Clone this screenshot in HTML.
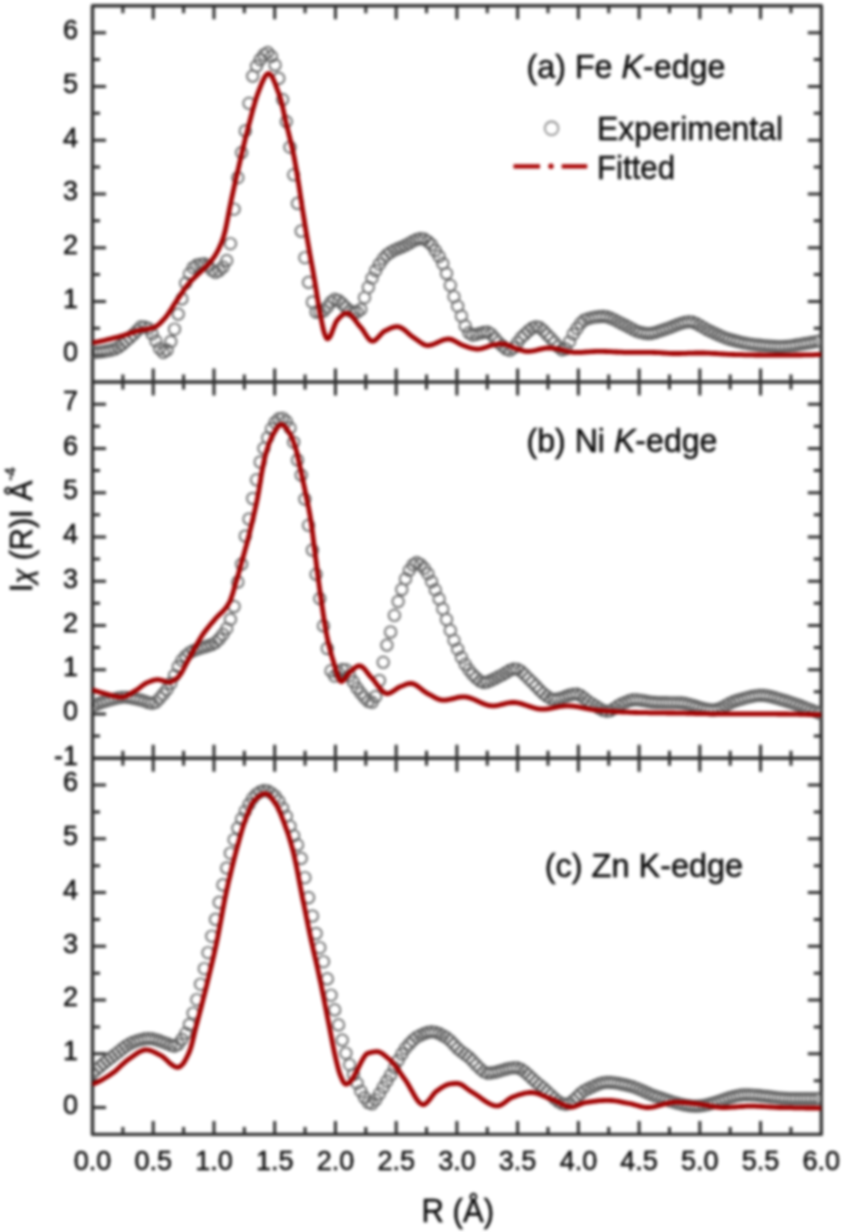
<!DOCTYPE html>
<html><head><meta charset="utf-8"><style>
html,body{margin:0;padding:0;background:#fff;}
svg{display:block;}
#w{filter:blur(1.5px);width:843px;height:1232px;overflow:hidden;}
</style></head><body>
<div id="w"><svg width="843" height="1232" viewBox="0 0 843 1232">
<rect width="100%" height="100%" fill="#fff"/>
<g stroke="#303030" stroke-width="3.4" fill="none" stroke-linecap="butt">
<rect x="92.5" y="5.8" width="728.8" height="1128.6" stroke-linejoin="round"/>
<line x1="92.5" y1="382.0" x2="821.3" y2="382.0"/>
<line x1="92.5" y1="758.1999999999999" x2="821.3" y2="758.1999999999999"/>
</g>
<path d="M92.5,355.13h13.5M821.3,355.13h-13.5M92.5,328.26h7.5M821.3,328.26h-7.5M92.5,301.39h13.5M821.3,301.39h-13.5M92.5,274.51h7.5M821.3,274.51h-7.5M92.5,247.64h13.5M821.3,247.64h-13.5M92.5,220.77h7.5M821.3,220.77h-7.5M92.5,193.90h13.5M821.3,193.90h-13.5M92.5,167.03h7.5M821.3,167.03h-7.5M92.5,140.16h13.5M821.3,140.16h-13.5M92.5,113.29h7.5M821.3,113.29h-7.5M92.5,86.41h13.5M821.3,86.41h-13.5M92.5,59.54h7.5M821.3,59.54h-7.5M92.5,32.67h13.5M821.3,32.67h-13.5M92.5,736.07h7.5M821.3,736.07h-7.5M92.5,713.94h13.5M821.3,713.94h-13.5M92.5,691.81h7.5M821.3,691.81h-7.5M92.5,669.68h13.5M821.3,669.68h-13.5M92.5,647.55h7.5M821.3,647.55h-7.5M92.5,625.42h13.5M821.3,625.42h-13.5M92.5,603.29h7.5M821.3,603.29h-7.5M92.5,581.16h13.5M821.3,581.16h-13.5M92.5,559.04h7.5M821.3,559.04h-7.5M92.5,536.91h13.5M821.3,536.91h-13.5M92.5,514.78h7.5M821.3,514.78h-7.5M92.5,492.65h13.5M821.3,492.65h-13.5M92.5,470.52h7.5M821.3,470.52h-7.5M92.5,448.39h13.5M821.3,448.39h-13.5M92.5,426.26h7.5M821.3,426.26h-7.5M92.5,404.13h13.5M821.3,404.13h-13.5M92.5,1107.53h13.5M821.3,1107.53h-13.5M92.5,1080.66h7.5M821.3,1080.66h-7.5M92.5,1053.79h13.5M821.3,1053.79h-13.5M92.5,1026.91h7.5M821.3,1026.91h-7.5M92.5,1000.04h13.5M821.3,1000.04h-13.5M92.5,973.17h7.5M821.3,973.17h-7.5M92.5,946.30h13.5M821.3,946.30h-13.5M92.5,919.43h7.5M821.3,919.43h-7.5M92.5,892.56h13.5M821.3,892.56h-13.5M92.5,865.69h7.5M821.3,865.69h-7.5M92.5,838.81h13.5M821.3,838.81h-13.5M92.5,811.94h7.5M821.3,811.94h-7.5M92.5,785.07h13.5M821.3,785.07h-13.5M122.87,5.8v7.5M153.23,5.8v13.5M183.60,5.8v7.5M213.97,5.8v13.5M244.33,5.8v7.5M274.70,5.8v13.5M305.07,5.8v7.5M335.43,5.8v13.5M365.80,5.8v7.5M396.17,5.8v13.5M426.53,5.8v7.5M456.90,5.8v13.5M487.27,5.8v7.5M517.63,5.8v13.5M548.00,5.8v7.5M578.37,5.8v13.5M608.73,5.8v7.5M639.10,5.8v13.5M669.47,5.8v7.5M699.83,5.8v13.5M730.20,5.8v7.5M760.57,5.8v13.5M790.93,5.8v7.5M122.87,374.5v15.0M153.23,368.5v27.0M183.60,374.5v15.0M213.97,368.5v27.0M244.33,374.5v15.0M274.70,368.5v27.0M305.07,374.5v15.0M335.43,368.5v27.0M365.80,374.5v15.0M396.17,368.5v27.0M426.53,374.5v15.0M456.90,368.5v27.0M487.27,374.5v15.0M517.63,368.5v27.0M548.00,374.5v15.0M578.37,368.5v27.0M608.73,374.5v15.0M639.10,368.5v27.0M669.47,374.5v15.0M699.83,368.5v27.0M730.20,374.5v15.0M760.57,368.5v27.0M790.93,374.5v15.0M122.87,750.6999999999999v15.0M153.23,744.6999999999999v27.0M183.60,750.6999999999999v15.0M213.97,744.6999999999999v27.0M244.33,750.6999999999999v15.0M274.70,744.6999999999999v27.0M305.07,750.6999999999999v15.0M335.43,744.6999999999999v27.0M365.80,750.6999999999999v15.0M396.17,744.6999999999999v27.0M426.53,750.6999999999999v15.0M456.90,744.6999999999999v27.0M487.27,750.6999999999999v15.0M517.63,744.6999999999999v27.0M548.00,750.6999999999999v15.0M578.37,744.6999999999999v27.0M608.73,750.6999999999999v15.0M639.10,744.6999999999999v27.0M669.47,750.6999999999999v15.0M699.83,744.6999999999999v27.0M730.20,750.6999999999999v15.0M760.57,744.6999999999999v27.0M790.93,750.6999999999999v15.0M122.87,1134.3999999999999v-7.5M153.23,1134.3999999999999v-13.5M183.60,1134.3999999999999v-7.5M213.97,1134.3999999999999v-13.5M244.33,1134.3999999999999v-7.5M274.70,1134.3999999999999v-13.5M305.07,1134.3999999999999v-7.5M335.43,1134.3999999999999v-13.5M365.80,1134.3999999999999v-7.5M396.17,1134.3999999999999v-13.5M426.53,1134.3999999999999v-7.5M456.90,1134.3999999999999v-13.5M487.27,1134.3999999999999v-7.5M517.63,1134.3999999999999v-13.5M548.00,1134.3999999999999v-7.5M578.37,1134.3999999999999v-13.5M608.73,1134.3999999999999v-7.5M639.10,1134.3999999999999v-13.5M669.47,1134.3999999999999v-7.5M699.83,1134.3999999999999v-13.5M730.20,1134.3999999999999v-7.5M760.57,1134.3999999999999v-13.5M790.93,1134.3999999999999v-7.5" stroke="#303030" stroke-width="3.0" fill="none"/>
<defs>
<clipPath id="cp0"><rect x="92.5" y="5.80" width="728.80" height="376.20"/></clipPath>
<clipPath id="cp1"><rect x="92.5" y="382.00" width="728.80" height="376.20"/></clipPath>
<clipPath id="cp2"><rect x="92.5" y="758.20" width="728.80" height="376.20"/></clipPath>
</defs>
<g clip-path="url(#cp0)">
<path d="M86.8,352.4a5.7,5.7 0 1,0 11.4,0a5.7,5.7 0 1,0 -11.4,0M90.5,352.3a5.7,5.7 0 1,0 11.4,0a5.7,5.7 0 1,0 -11.4,0M94.3,352.0a5.7,5.7 0 1,0 11.4,0a5.7,5.7 0 1,0 -11.4,0M98.0,351.5a5.7,5.7 0 1,0 11.4,0a5.7,5.7 0 1,0 -11.4,0M101.7,350.8a5.7,5.7 0 1,0 11.4,0a5.7,5.7 0 1,0 -11.4,0M105.4,350.1a5.7,5.7 0 1,0 11.4,0a5.7,5.7 0 1,0 -11.4,0M109.2,349.0a5.7,5.7 0 1,0 11.4,0a5.7,5.7 0 1,0 -11.4,0M112.9,347.1a5.7,5.7 0 1,0 11.4,0a5.7,5.7 0 1,0 -11.4,0M116.6,344.4a5.7,5.7 0 1,0 11.4,0a5.7,5.7 0 1,0 -11.4,0M120.3,341.2a5.7,5.7 0 1,0 11.4,0a5.7,5.7 0 1,0 -11.4,0M124.1,337.8a5.7,5.7 0 1,0 11.4,0a5.7,5.7 0 1,0 -11.4,0M127.8,334.4a5.7,5.7 0 1,0 11.4,0a5.7,5.7 0 1,0 -11.4,0M131.5,330.6a5.7,5.7 0 1,0 11.4,0a5.7,5.7 0 1,0 -11.4,0M135.2,326.9a5.7,5.7 0 1,0 11.4,0a5.7,5.7 0 1,0 -11.4,0M139.0,327.0a5.7,5.7 0 1,0 11.4,0a5.7,5.7 0 1,0 -11.4,0M142.7,328.3a5.7,5.7 0 1,0 11.4,0a5.7,5.7 0 1,0 -11.4,0M146.4,333.9a5.7,5.7 0 1,0 11.4,0a5.7,5.7 0 1,0 -11.4,0M150.2,341.0a5.7,5.7 0 1,0 11.4,0a5.7,5.7 0 1,0 -11.4,0M153.9,348.6a5.7,5.7 0 1,0 11.4,0a5.7,5.7 0 1,0 -11.4,0M157.6,352.4a5.7,5.7 0 1,0 11.4,0a5.7,5.7 0 1,0 -11.4,0M161.3,350.1a5.7,5.7 0 1,0 11.4,0a5.7,5.7 0 1,0 -11.4,0M165.1,341.5a5.7,5.7 0 1,0 11.4,0a5.7,5.7 0 1,0 -11.4,0M168.8,329.2a5.7,5.7 0 1,0 11.4,0a5.7,5.7 0 1,0 -11.4,0M172.5,314.1a5.7,5.7 0 1,0 11.4,0a5.7,5.7 0 1,0 -11.4,0M176.2,298.9a5.7,5.7 0 1,0 11.4,0a5.7,5.7 0 1,0 -11.4,0M180.0,283.1a5.7,5.7 0 1,0 11.4,0a5.7,5.7 0 1,0 -11.4,0M183.7,273.8a5.7,5.7 0 1,0 11.4,0a5.7,5.7 0 1,0 -11.4,0M187.4,267.7a5.7,5.7 0 1,0 11.4,0a5.7,5.7 0 1,0 -11.4,0M191.1,265.1a5.7,5.7 0 1,0 11.4,0a5.7,5.7 0 1,0 -11.4,0M194.9,264.2a5.7,5.7 0 1,0 11.4,0a5.7,5.7 0 1,0 -11.4,0M198.6,263.8a5.7,5.7 0 1,0 11.4,0a5.7,5.7 0 1,0 -11.4,0M202.3,265.6a5.7,5.7 0 1,0 11.4,0a5.7,5.7 0 1,0 -11.4,0M206.1,270.2a5.7,5.7 0 1,0 11.4,0a5.7,5.7 0 1,0 -11.4,0M209.8,272.3a5.7,5.7 0 1,0 11.4,0a5.7,5.7 0 1,0 -11.4,0M213.5,270.7a5.7,5.7 0 1,0 11.4,0a5.7,5.7 0 1,0 -11.4,0M217.2,267.0a5.7,5.7 0 1,0 11.4,0a5.7,5.7 0 1,0 -11.4,0M221.0,260.6a5.7,5.7 0 1,0 11.4,0a5.7,5.7 0 1,0 -11.4,0M224.7,243.7a5.7,5.7 0 1,0 11.4,0a5.7,5.7 0 1,0 -11.4,0M228.4,209.2a5.7,5.7 0 1,0 11.4,0a5.7,5.7 0 1,0 -11.4,0M232.1,177.7a5.7,5.7 0 1,0 11.4,0a5.7,5.7 0 1,0 -11.4,0M235.9,152.6a5.7,5.7 0 1,0 11.4,0a5.7,5.7 0 1,0 -11.4,0M239.6,130.9a5.7,5.7 0 1,0 11.4,0a5.7,5.7 0 1,0 -11.4,0M243.3,103.3a5.7,5.7 0 1,0 11.4,0a5.7,5.7 0 1,0 -11.4,0M247.0,76.1a5.7,5.7 0 1,0 11.4,0a5.7,5.7 0 1,0 -11.4,0M250.8,66.1a5.7,5.7 0 1,0 11.4,0a5.7,5.7 0 1,0 -11.4,0M254.5,59.6a5.7,5.7 0 1,0 11.4,0a5.7,5.7 0 1,0 -11.4,0M258.2,54.9a5.7,5.7 0 1,0 11.4,0a5.7,5.7 0 1,0 -11.4,0M262.0,52.6a5.7,5.7 0 1,0 11.4,0a5.7,5.7 0 1,0 -11.4,0M265.7,56.3a5.7,5.7 0 1,0 11.4,0a5.7,5.7 0 1,0 -11.4,0M269.4,65.0a5.7,5.7 0 1,0 11.4,0a5.7,5.7 0 1,0 -11.4,0M273.1,78.4a5.7,5.7 0 1,0 11.4,0a5.7,5.7 0 1,0 -11.4,0M276.9,99.6a5.7,5.7 0 1,0 11.4,0a5.7,5.7 0 1,0 -11.4,0M280.6,121.6a5.7,5.7 0 1,0 11.4,0a5.7,5.7 0 1,0 -11.4,0M284.3,147.2a5.7,5.7 0 1,0 11.4,0a5.7,5.7 0 1,0 -11.4,0M288.0,174.8a5.7,5.7 0 1,0 11.4,0a5.7,5.7 0 1,0 -11.4,0M291.8,203.4a5.7,5.7 0 1,0 11.4,0a5.7,5.7 0 1,0 -11.4,0M295.5,231.1a5.7,5.7 0 1,0 11.4,0a5.7,5.7 0 1,0 -11.4,0M299.2,257.7a5.7,5.7 0 1,0 11.4,0a5.7,5.7 0 1,0 -11.4,0M302.9,282.4a5.7,5.7 0 1,0 11.4,0a5.7,5.7 0 1,0 -11.4,0M306.7,302.0a5.7,5.7 0 1,0 11.4,0a5.7,5.7 0 1,0 -11.4,0M310.4,312.1a5.7,5.7 0 1,0 11.4,0a5.7,5.7 0 1,0 -11.4,0M314.1,311.8a5.7,5.7 0 1,0 11.4,0a5.7,5.7 0 1,0 -11.4,0M317.8,311.0a5.7,5.7 0 1,0 11.4,0a5.7,5.7 0 1,0 -11.4,0M321.6,307.1a5.7,5.7 0 1,0 11.4,0a5.7,5.7 0 1,0 -11.4,0M325.3,302.1a5.7,5.7 0 1,0 11.4,0a5.7,5.7 0 1,0 -11.4,0M329.0,299.4a5.7,5.7 0 1,0 11.4,0a5.7,5.7 0 1,0 -11.4,0M332.8,300.5a5.7,5.7 0 1,0 11.4,0a5.7,5.7 0 1,0 -11.4,0M336.5,303.6a5.7,5.7 0 1,0 11.4,0a5.7,5.7 0 1,0 -11.4,0M340.2,307.5a5.7,5.7 0 1,0 11.4,0a5.7,5.7 0 1,0 -11.4,0M343.9,310.9a5.7,5.7 0 1,0 11.4,0a5.7,5.7 0 1,0 -11.4,0M347.7,311.7a5.7,5.7 0 1,0 11.4,0a5.7,5.7 0 1,0 -11.4,0M351.4,312.1a5.7,5.7 0 1,0 11.4,0a5.7,5.7 0 1,0 -11.4,0M355.1,309.3a5.7,5.7 0 1,0 11.4,0a5.7,5.7 0 1,0 -11.4,0M358.8,297.7a5.7,5.7 0 1,0 11.4,0a5.7,5.7 0 1,0 -11.4,0M362.6,287.3a5.7,5.7 0 1,0 11.4,0a5.7,5.7 0 1,0 -11.4,0M366.3,278.2a5.7,5.7 0 1,0 11.4,0a5.7,5.7 0 1,0 -11.4,0M370.0,270.5a5.7,5.7 0 1,0 11.4,0a5.7,5.7 0 1,0 -11.4,0M373.7,264.2a5.7,5.7 0 1,0 11.4,0a5.7,5.7 0 1,0 -11.4,0M377.5,258.8a5.7,5.7 0 1,0 11.4,0a5.7,5.7 0 1,0 -11.4,0M381.2,254.8a5.7,5.7 0 1,0 11.4,0a5.7,5.7 0 1,0 -11.4,0M384.9,252.3a5.7,5.7 0 1,0 11.4,0a5.7,5.7 0 1,0 -11.4,0M388.7,250.2a5.7,5.7 0 1,0 11.4,0a5.7,5.7 0 1,0 -11.4,0M392.4,248.5a5.7,5.7 0 1,0 11.4,0a5.7,5.7 0 1,0 -11.4,0M396.1,247.0a5.7,5.7 0 1,0 11.4,0a5.7,5.7 0 1,0 -11.4,0M399.8,245.3a5.7,5.7 0 1,0 11.4,0a5.7,5.7 0 1,0 -11.4,0M403.6,243.3a5.7,5.7 0 1,0 11.4,0a5.7,5.7 0 1,0 -11.4,0M407.3,241.2a5.7,5.7 0 1,0 11.4,0a5.7,5.7 0 1,0 -11.4,0M411.0,239.5a5.7,5.7 0 1,0 11.4,0a5.7,5.7 0 1,0 -11.4,0M414.7,238.6a5.7,5.7 0 1,0 11.4,0a5.7,5.7 0 1,0 -11.4,0M418.5,239.1a5.7,5.7 0 1,0 11.4,0a5.7,5.7 0 1,0 -11.4,0M422.2,241.5a5.7,5.7 0 1,0 11.4,0a5.7,5.7 0 1,0 -11.4,0M425.9,244.9a5.7,5.7 0 1,0 11.4,0a5.7,5.7 0 1,0 -11.4,0M429.6,250.5a5.7,5.7 0 1,0 11.4,0a5.7,5.7 0 1,0 -11.4,0M433.4,256.4a5.7,5.7 0 1,0 11.4,0a5.7,5.7 0 1,0 -11.4,0M437.1,263.5a5.7,5.7 0 1,0 11.4,0a5.7,5.7 0 1,0 -11.4,0M440.8,273.5a5.7,5.7 0 1,0 11.4,0a5.7,5.7 0 1,0 -11.4,0M444.6,285.3a5.7,5.7 0 1,0 11.4,0a5.7,5.7 0 1,0 -11.4,0M448.3,296.7a5.7,5.7 0 1,0 11.4,0a5.7,5.7 0 1,0 -11.4,0M452.0,306.2a5.7,5.7 0 1,0 11.4,0a5.7,5.7 0 1,0 -11.4,0M455.7,316.0a5.7,5.7 0 1,0 11.4,0a5.7,5.7 0 1,0 -11.4,0M459.5,325.9a5.7,5.7 0 1,0 11.4,0a5.7,5.7 0 1,0 -11.4,0M463.2,332.8a5.7,5.7 0 1,0 11.4,0a5.7,5.7 0 1,0 -11.4,0M466.9,335.2a5.7,5.7 0 1,0 11.4,0a5.7,5.7 0 1,0 -11.4,0M470.6,334.4a5.7,5.7 0 1,0 11.4,0a5.7,5.7 0 1,0 -11.4,0M474.4,333.3a5.7,5.7 0 1,0 11.4,0a5.7,5.7 0 1,0 -11.4,0M478.1,332.4a5.7,5.7 0 1,0 11.4,0a5.7,5.7 0 1,0 -11.4,0M481.8,332.0a5.7,5.7 0 1,0 11.4,0a5.7,5.7 0 1,0 -11.4,0M485.5,334.2a5.7,5.7 0 1,0 11.4,0a5.7,5.7 0 1,0 -11.4,0M489.3,338.5a5.7,5.7 0 1,0 11.4,0a5.7,5.7 0 1,0 -11.4,0M493.0,342.7a5.7,5.7 0 1,0 11.4,0a5.7,5.7 0 1,0 -11.4,0M496.7,345.9a5.7,5.7 0 1,0 11.4,0a5.7,5.7 0 1,0 -11.4,0M500.5,349.0a5.7,5.7 0 1,0 11.4,0a5.7,5.7 0 1,0 -11.4,0M504.2,350.3a5.7,5.7 0 1,0 11.4,0a5.7,5.7 0 1,0 -11.4,0M507.9,347.9a5.7,5.7 0 1,0 11.4,0a5.7,5.7 0 1,0 -11.4,0M511.6,342.9a5.7,5.7 0 1,0 11.4,0a5.7,5.7 0 1,0 -11.4,0M515.4,337.8a5.7,5.7 0 1,0 11.4,0a5.7,5.7 0 1,0 -11.4,0M519.1,334.3a5.7,5.7 0 1,0 11.4,0a5.7,5.7 0 1,0 -11.4,0M522.8,330.9a5.7,5.7 0 1,0 11.4,0a5.7,5.7 0 1,0 -11.4,0M526.5,328.1a5.7,5.7 0 1,0 11.4,0a5.7,5.7 0 1,0 -11.4,0M530.3,326.7a5.7,5.7 0 1,0 11.4,0a5.7,5.7 0 1,0 -11.4,0M534.0,327.6a5.7,5.7 0 1,0 11.4,0a5.7,5.7 0 1,0 -11.4,0M537.7,330.6a5.7,5.7 0 1,0 11.4,0a5.7,5.7 0 1,0 -11.4,0M541.4,334.6a5.7,5.7 0 1,0 11.4,0a5.7,5.7 0 1,0 -11.4,0M545.2,338.3a5.7,5.7 0 1,0 11.4,0a5.7,5.7 0 1,0 -11.4,0M548.9,342.5a5.7,5.7 0 1,0 11.4,0a5.7,5.7 0 1,0 -11.4,0M552.6,346.9a5.7,5.7 0 1,0 11.4,0a5.7,5.7 0 1,0 -11.4,0M556.4,349.9a5.7,5.7 0 1,0 11.4,0a5.7,5.7 0 1,0 -11.4,0M560.1,348.9a5.7,5.7 0 1,0 11.4,0a5.7,5.7 0 1,0 -11.4,0M563.8,341.7a5.7,5.7 0 1,0 11.4,0a5.7,5.7 0 1,0 -11.4,0M567.5,334.0a5.7,5.7 0 1,0 11.4,0a5.7,5.7 0 1,0 -11.4,0M571.3,328.5a5.7,5.7 0 1,0 11.4,0a5.7,5.7 0 1,0 -11.4,0M575.0,323.3a5.7,5.7 0 1,0 11.4,0a5.7,5.7 0 1,0 -11.4,0M578.7,320.0a5.7,5.7 0 1,0 11.4,0a5.7,5.7 0 1,0 -11.4,0M582.4,318.7a5.7,5.7 0 1,0 11.4,0a5.7,5.7 0 1,0 -11.4,0M586.2,317.7a5.7,5.7 0 1,0 11.4,0a5.7,5.7 0 1,0 -11.4,0M589.9,317.0a5.7,5.7 0 1,0 11.4,0a5.7,5.7 0 1,0 -11.4,0M593.6,316.6a5.7,5.7 0 1,0 11.4,0a5.7,5.7 0 1,0 -11.4,0M597.3,316.4a5.7,5.7 0 1,0 11.4,0a5.7,5.7 0 1,0 -11.4,0M601.1,316.9a5.7,5.7 0 1,0 11.4,0a5.7,5.7 0 1,0 -11.4,0M604.8,318.1a5.7,5.7 0 1,0 11.4,0a5.7,5.7 0 1,0 -11.4,0M608.5,319.7a5.7,5.7 0 1,0 11.4,0a5.7,5.7 0 1,0 -11.4,0M612.3,321.7a5.7,5.7 0 1,0 11.4,0a5.7,5.7 0 1,0 -11.4,0M616.0,323.6a5.7,5.7 0 1,0 11.4,0a5.7,5.7 0 1,0 -11.4,0M619.7,325.4a5.7,5.7 0 1,0 11.4,0a5.7,5.7 0 1,0 -11.4,0M623.4,327.3a5.7,5.7 0 1,0 11.4,0a5.7,5.7 0 1,0 -11.4,0M627.2,329.4a5.7,5.7 0 1,0 11.4,0a5.7,5.7 0 1,0 -11.4,0M630.9,331.2a5.7,5.7 0 1,0 11.4,0a5.7,5.7 0 1,0 -11.4,0M634.6,332.3a5.7,5.7 0 1,0 11.4,0a5.7,5.7 0 1,0 -11.4,0M638.3,333.1a5.7,5.7 0 1,0 11.4,0a5.7,5.7 0 1,0 -11.4,0M642.1,333.6a5.7,5.7 0 1,0 11.4,0a5.7,5.7 0 1,0 -11.4,0M645.8,333.4a5.7,5.7 0 1,0 11.4,0a5.7,5.7 0 1,0 -11.4,0M649.5,332.5a5.7,5.7 0 1,0 11.4,0a5.7,5.7 0 1,0 -11.4,0M653.2,331.3a5.7,5.7 0 1,0 11.4,0a5.7,5.7 0 1,0 -11.4,0M657.0,330.1a5.7,5.7 0 1,0 11.4,0a5.7,5.7 0 1,0 -11.4,0M660.7,328.9a5.7,5.7 0 1,0 11.4,0a5.7,5.7 0 1,0 -11.4,0M664.4,327.5a5.7,5.7 0 1,0 11.4,0a5.7,5.7 0 1,0 -11.4,0M668.1,326.0a5.7,5.7 0 1,0 11.4,0a5.7,5.7 0 1,0 -11.4,0M671.9,324.5a5.7,5.7 0 1,0 11.4,0a5.7,5.7 0 1,0 -11.4,0M675.6,323.3a5.7,5.7 0 1,0 11.4,0a5.7,5.7 0 1,0 -11.4,0M679.3,322.3a5.7,5.7 0 1,0 11.4,0a5.7,5.7 0 1,0 -11.4,0M683.1,321.8a5.7,5.7 0 1,0 11.4,0a5.7,5.7 0 1,0 -11.4,0M686.8,322.1a5.7,5.7 0 1,0 11.4,0a5.7,5.7 0 1,0 -11.4,0M690.5,323.5a5.7,5.7 0 1,0 11.4,0a5.7,5.7 0 1,0 -11.4,0M694.2,325.5a5.7,5.7 0 1,0 11.4,0a5.7,5.7 0 1,0 -11.4,0M698.0,327.7a5.7,5.7 0 1,0 11.4,0a5.7,5.7 0 1,0 -11.4,0M701.7,329.9a5.7,5.7 0 1,0 11.4,0a5.7,5.7 0 1,0 -11.4,0M705.4,331.6a5.7,5.7 0 1,0 11.4,0a5.7,5.7 0 1,0 -11.4,0M709.1,333.4a5.7,5.7 0 1,0 11.4,0a5.7,5.7 0 1,0 -11.4,0M712.9,335.1a5.7,5.7 0 1,0 11.4,0a5.7,5.7 0 1,0 -11.4,0M716.6,336.7a5.7,5.7 0 1,0 11.4,0a5.7,5.7 0 1,0 -11.4,0M720.3,338.2a5.7,5.7 0 1,0 11.4,0a5.7,5.7 0 1,0 -11.4,0M724.0,339.4a5.7,5.7 0 1,0 11.4,0a5.7,5.7 0 1,0 -11.4,0M727.8,340.4a5.7,5.7 0 1,0 11.4,0a5.7,5.7 0 1,0 -11.4,0M731.5,341.4a5.7,5.7 0 1,0 11.4,0a5.7,5.7 0 1,0 -11.4,0M735.2,342.2a5.7,5.7 0 1,0 11.4,0a5.7,5.7 0 1,0 -11.4,0M739.0,343.0a5.7,5.7 0 1,0 11.4,0a5.7,5.7 0 1,0 -11.4,0M742.7,343.7a5.7,5.7 0 1,0 11.4,0a5.7,5.7 0 1,0 -11.4,0M746.4,344.2a5.7,5.7 0 1,0 11.4,0a5.7,5.7 0 1,0 -11.4,0M750.1,344.7a5.7,5.7 0 1,0 11.4,0a5.7,5.7 0 1,0 -11.4,0M753.9,345.1a5.7,5.7 0 1,0 11.4,0a5.7,5.7 0 1,0 -11.4,0M757.6,345.5a5.7,5.7 0 1,0 11.4,0a5.7,5.7 0 1,0 -11.4,0M761.3,345.8a5.7,5.7 0 1,0 11.4,0a5.7,5.7 0 1,0 -11.4,0M765.0,346.1a5.7,5.7 0 1,0 11.4,0a5.7,5.7 0 1,0 -11.4,0M768.8,346.4a5.7,5.7 0 1,0 11.4,0a5.7,5.7 0 1,0 -11.4,0M772.5,346.5a5.7,5.7 0 1,0 11.4,0a5.7,5.7 0 1,0 -11.4,0M776.2,346.5a5.7,5.7 0 1,0 11.4,0a5.7,5.7 0 1,0 -11.4,0M779.9,346.3a5.7,5.7 0 1,0 11.4,0a5.7,5.7 0 1,0 -11.4,0M783.7,346.0a5.7,5.7 0 1,0 11.4,0a5.7,5.7 0 1,0 -11.4,0M787.4,345.5a5.7,5.7 0 1,0 11.4,0a5.7,5.7 0 1,0 -11.4,0M791.1,344.9a5.7,5.7 0 1,0 11.4,0a5.7,5.7 0 1,0 -11.4,0M794.9,344.2a5.7,5.7 0 1,0 11.4,0a5.7,5.7 0 1,0 -11.4,0M798.6,343.6a5.7,5.7 0 1,0 11.4,0a5.7,5.7 0 1,0 -11.4,0M802.3,343.0a5.7,5.7 0 1,0 11.4,0a5.7,5.7 0 1,0 -11.4,0M806.0,342.4a5.7,5.7 0 1,0 11.4,0a5.7,5.7 0 1,0 -11.4,0M809.8,341.7a5.7,5.7 0 1,0 11.4,0a5.7,5.7 0 1,0 -11.4,0M813.5,341.0a5.7,5.7 0 1,0 11.4,0a5.7,5.7 0 1,0 -11.4,0" fill="none" stroke="#5c5c5c" stroke-width="1.7"/>
<polyline points="92.5,342.8 93.7,342.5 94.9,342.3 96.1,342.1 97.4,341.8 98.6,341.6 99.8,341.4 101.0,341.1 102.2,340.8 103.4,340.6 104.6,340.3 105.9,340.0 107.1,339.7 108.3,339.4 109.5,339.1 110.7,338.8 111.9,338.5 113.1,338.2 114.4,337.9 115.6,337.6 116.8,337.3 118.0,337.0 119.2,336.7 120.4,336.3 121.7,335.9 122.9,335.6 124.1,335.2 125.3,334.8 126.5,334.4 127.7,334.0 128.9,333.6 130.2,333.1 131.4,332.7 132.6,332.4 133.8,332.0 135.0,331.6 136.2,331.3 137.4,330.9 138.7,330.6 139.9,330.4 141.1,330.1 142.3,329.9 143.5,329.7 144.7,329.5 145.9,329.3 147.2,329.1 148.4,328.8 149.6,328.6 150.8,328.3 152.0,328.0 153.2,327.6 154.4,327.2 155.7,326.6 156.9,325.9 158.1,325.0 159.3,323.9 160.5,322.8 161.7,321.5 163.0,320.2 164.2,318.9 165.4,317.5 166.6,316.0 167.8,314.4 169.0,312.6 170.2,310.7 171.5,308.8 172.7,306.8 173.9,304.9 175.1,303.0 176.3,301.2 177.5,299.4 178.7,297.6 180.0,295.8 181.2,293.9 182.4,292.1 183.6,290.4 184.8,288.7 186.0,287.0 187.2,285.4 188.5,283.9 189.7,282.5 190.9,281.2 192.1,279.9 193.3,278.7 194.5,277.5 195.7,276.4 197.0,275.2 198.2,274.1 199.4,273.0 200.6,271.8 201.8,270.7 203.0,269.5 204.2,268.2 205.5,267.0 206.7,265.8 207.9,264.6 209.1,263.3 210.3,261.9 211.5,260.4 212.8,258.8 214.0,257.1 215.2,255.2 216.4,253.2 217.6,251.1 218.8,248.7 220.0,246.1 221.3,243.2 222.5,239.9 223.7,236.2 224.9,232.0 226.1,226.6 227.3,220.5 228.5,214.0 229.8,207.5 231.0,201.4 232.2,195.8 233.4,190.2 234.6,184.7 235.8,179.3 237.0,174.0 238.3,168.7 239.5,163.4 240.7,158.3 241.9,153.1 243.1,148.0 244.3,143.0 245.5,138.0 246.8,133.1 248.0,128.3 249.2,123.6 250.4,119.1 251.6,114.5 252.8,109.8 254.1,105.4 255.3,101.1 256.5,97.2 257.7,93.8 258.9,90.7 260.1,87.6 261.3,84.5 262.6,81.5 263.8,78.9 265.0,76.6 266.2,74.9 267.4,73.8 268.6,73.5 269.8,74.1 271.1,75.4 272.3,77.3 273.5,79.7 274.7,82.5 275.9,85.7 277.1,89.0 278.3,92.3 279.6,95.7 280.8,99.7 282.0,104.5 283.2,109.8 284.4,115.4 285.6,120.9 286.8,126.1 288.1,131.0 289.3,135.8 290.5,140.7 291.7,145.7 292.9,151.1 294.1,157.0 295.3,163.7 296.6,171.0 297.8,178.6 299.0,186.2 300.2,194.0 301.4,202.0 302.6,210.0 303.9,218.0 305.1,225.7 306.3,233.1 307.5,240.3 308.7,247.2 309.9,254.1 311.1,260.9 312.4,267.7 313.6,274.6 314.8,281.7 316.0,289.1 317.2,296.6 318.4,304.0 319.6,311.1 320.9,317.6 322.1,323.6 323.3,329.4 324.5,333.6 325.7,336.6 326.9,338.7 328.1,338.8 329.4,337.6 330.6,335.5 331.8,332.7 333.0,329.5 334.2,326.3 335.4,323.4 336.6,321.0 337.9,319.4 339.1,318.1 340.3,316.9 341.5,315.8 342.7,314.8 343.9,314.0 345.2,313.5 346.4,313.2 347.6,313.3 348.8,313.8 350.0,314.6 351.2,315.7 352.4,317.0 353.7,318.4 354.9,319.9 356.1,321.5 357.3,323.1 358.5,324.7 359.7,326.1 360.9,327.5 362.2,329.1 363.4,330.9 364.6,332.8 365.8,334.7 367.0,336.5 368.2,338.2 369.4,339.5 370.7,340.5 371.9,341.1 373.1,341.1 374.3,340.7 375.5,339.9 376.7,338.8 377.9,337.6 379.2,336.3 380.4,334.9 381.6,333.6 382.8,332.4 384.0,331.4 385.2,330.8 386.4,330.2 387.7,329.6 388.9,329.0 390.1,328.4 391.3,327.9 392.5,327.5 393.7,327.1 395.0,326.9 396.2,326.7 397.4,326.6 398.6,326.8 399.8,327.1 401.0,327.7 402.2,328.4 403.5,329.2 404.7,330.2 405.9,331.2 407.1,332.2 408.3,333.3 409.5,334.4 410.7,335.4 412.0,336.4 413.2,337.3 414.4,338.1 415.6,338.9 416.8,339.7 418.0,340.6 419.2,341.5 420.5,342.4 421.7,343.2 422.9,343.9 424.1,344.6 425.3,345.0 426.5,345.3 427.7,345.5 429.0,345.4 430.2,345.2 431.4,344.9 432.6,344.6 433.8,344.1 435.0,343.6 436.3,343.1 437.5,342.5 438.7,341.9 439.9,341.4 441.1,340.8 442.3,340.4 443.5,339.9 444.8,339.5 446.0,339.3 447.2,339.1 448.4,339.0 449.6,339.1 450.8,339.4 452.0,339.7 453.3,340.3 454.5,340.9 455.7,341.5 456.9,342.2 458.1,342.9 459.3,343.6 460.5,344.3 461.8,344.9 463.0,345.4 464.2,345.8 465.4,346.2 466.6,346.6 467.8,347.1 469.0,347.5 470.3,347.8 471.5,348.2 472.7,348.5 473.9,348.7 475.1,348.9 476.3,349.0 477.5,349.1 478.8,349.0 480.0,348.8 481.2,348.6 482.4,348.3 483.6,347.9 484.8,347.6 486.1,347.2 487.3,346.7 488.5,346.3 489.7,345.9 490.9,345.5 492.1,345.2 493.3,344.9 494.6,344.6 495.8,344.5 497.0,344.3 498.2,344.1 499.4,344.0 500.6,343.9 501.8,343.8 503.1,343.9 504.3,344.1 505.5,344.4 506.7,344.7 507.9,345.2 509.1,345.7 510.3,346.2 511.6,346.7 512.8,347.3 514.0,347.8 515.2,348.3 516.4,348.7 517.6,349.1 518.8,349.4 520.1,349.8 521.3,350.1 522.5,350.5 523.7,350.8 524.9,351.1 526.1,351.3 527.4,351.4 528.6,351.4 529.8,351.3 531.0,351.2 532.2,351.0 533.4,350.8 534.6,350.5 535.9,350.3 537.1,350.0 538.3,349.7 539.5,349.4 540.7,349.1 541.9,348.8 543.1,348.6 544.4,348.4 545.6,348.2 546.8,348.0 548.0,348.0 549.2,347.9 550.4,348.0 551.6,348.0 552.9,348.2 554.1,348.3 555.3,348.5 556.5,348.8 557.7,349.0 558.9,349.3 560.1,349.6 561.4,349.9 562.6,350.2 563.8,350.5 565.0,350.8 566.2,351.1 567.4,351.4 568.6,351.6 569.9,351.8 571.1,352.0 572.3,352.2 573.5,352.3 574.7,352.4 575.9,352.4 577.2,352.4 578.4,352.4 579.6,352.4 580.8,352.3 582.0,352.3 583.2,352.2 584.4,352.1 585.7,352.0 586.9,351.9 588.1,351.9 589.3,351.8 590.5,351.7 591.7,351.6 592.9,351.6 594.2,351.5 595.4,351.4 596.6,351.4 597.8,351.4 599.0,351.4 600.2,351.4 601.4,351.4 602.7,351.4 603.9,351.4 605.1,351.5 606.3,351.5 607.5,351.6 608.7,351.6 609.9,351.7 611.2,351.7 612.4,351.8 613.6,351.8 614.8,351.9 616.0,352.0 617.2,352.0 618.5,352.1 619.7,352.1 620.9,352.2 622.1,352.2 623.3,352.3 624.5,352.3 625.7,352.4 627.0,352.4 628.2,352.4 629.4,352.4 630.6,352.4 631.8,352.4 633.0,352.4 634.2,352.4 635.5,352.4 636.7,352.4 637.9,352.4 639.1,352.4 640.3,352.4 641.5,352.4 642.7,352.4 644.0,352.4 645.2,352.4 646.4,352.4 647.6,352.4 648.8,352.4 650.0,352.4 651.2,352.4 652.5,352.4 653.7,352.5 654.9,352.5 656.1,352.6 657.3,352.6 658.5,352.7 659.7,352.7 661.0,352.8 662.2,352.9 663.4,353.0 664.6,353.1 665.8,353.1 667.0,353.2 668.3,353.3 669.5,353.3 670.7,353.4 671.9,353.5 673.1,353.5 674.3,353.5 675.5,353.5 676.8,353.5 678.0,353.5 679.2,353.5 680.4,353.5 681.6,353.4 682.8,353.4 684.0,353.4 685.3,353.3 686.5,353.3 687.7,353.2 688.9,353.2 690.1,353.2 691.3,353.1 692.5,353.1 693.8,353.1 695.0,353.0 696.2,353.0 697.4,353.0 698.6,353.0 699.8,353.0 701.0,353.0 702.3,353.0 703.5,353.0 704.7,353.0 705.9,353.1 707.1,353.1 708.3,353.2 709.6,353.2 710.8,353.3 712.0,353.3 713.2,353.4 714.4,353.5 715.6,353.5 716.8,353.6 718.1,353.7 719.3,353.8 720.5,353.8 721.7,353.9 722.9,354.0 724.1,354.1 725.3,354.1 726.6,354.2 727.8,354.3 729.0,354.3 730.2,354.4 731.4,354.4 732.6,354.5 733.8,354.5 735.1,354.6 736.3,354.6 737.5,354.6 738.7,354.6 739.9,354.7 741.1,354.7 742.3,354.7 743.6,354.8 744.8,354.8 746.0,354.8 747.2,354.8 748.4,354.8 749.6,354.9 750.8,354.9 752.1,354.9 753.3,354.9 754.5,355.0 755.7,355.0 756.9,355.0 758.1,355.0 759.4,355.0 760.6,355.0 761.8,355.1 763.0,355.1 764.2,355.1 765.4,355.1 766.6,355.1 767.9,355.1 769.1,355.1 770.3,355.1 771.5,355.1 772.7,355.1 773.9,355.1 775.1,355.1 776.4,355.1 777.6,355.1 778.8,355.1 780.0,355.1 781.2,355.1 782.4,355.1 783.6,355.1 784.9,355.1 786.1,355.1 787.3,355.1 788.5,355.1 789.7,355.1 790.9,355.1 792.1,355.1 793.4,355.1 794.6,355.0 795.8,355.0 797.0,355.0 798.2,355.0 799.4,355.0 800.7,355.0 801.9,355.0 803.1,354.9 804.3,354.9 805.5,354.9 806.7,354.9 807.9,354.9 809.2,354.9 810.4,354.8 811.6,354.8 812.8,354.8 814.0,354.8 815.2,354.7 816.4,354.7 817.7,354.7 818.9,354.7 820.1,354.6 821.3,354.6" fill="none" stroke="#a00000" stroke-width="4.8" stroke-linejoin="round"/>
</g>
<g clip-path="url(#cp1)">
<path d="M86.8,706.0a5.7,5.7 0 1,0 11.4,0a5.7,5.7 0 1,0 -11.4,0M90.5,704.5a5.7,5.7 0 1,0 11.4,0a5.7,5.7 0 1,0 -11.4,0M94.3,703.1a5.7,5.7 0 1,0 11.4,0a5.7,5.7 0 1,0 -11.4,0M98.0,701.8a5.7,5.7 0 1,0 11.4,0a5.7,5.7 0 1,0 -11.4,0M101.7,700.7a5.7,5.7 0 1,0 11.4,0a5.7,5.7 0 1,0 -11.4,0M105.4,699.7a5.7,5.7 0 1,0 11.4,0a5.7,5.7 0 1,0 -11.4,0M109.2,698.7a5.7,5.7 0 1,0 11.4,0a5.7,5.7 0 1,0 -11.4,0M112.9,697.8a5.7,5.7 0 1,0 11.4,0a5.7,5.7 0 1,0 -11.4,0M116.6,697.2a5.7,5.7 0 1,0 11.4,0a5.7,5.7 0 1,0 -11.4,0M120.3,697.2a5.7,5.7 0 1,0 11.4,0a5.7,5.7 0 1,0 -11.4,0M124.1,697.7a5.7,5.7 0 1,0 11.4,0a5.7,5.7 0 1,0 -11.4,0M127.8,698.4a5.7,5.7 0 1,0 11.4,0a5.7,5.7 0 1,0 -11.4,0M131.5,699.2a5.7,5.7 0 1,0 11.4,0a5.7,5.7 0 1,0 -11.4,0M135.2,700.0a5.7,5.7 0 1,0 11.4,0a5.7,5.7 0 1,0 -11.4,0M139.0,701.2a5.7,5.7 0 1,0 11.4,0a5.7,5.7 0 1,0 -11.4,0M142.7,702.5a5.7,5.7 0 1,0 11.4,0a5.7,5.7 0 1,0 -11.4,0M146.4,703.3a5.7,5.7 0 1,0 11.4,0a5.7,5.7 0 1,0 -11.4,0M150.2,702.2a5.7,5.7 0 1,0 11.4,0a5.7,5.7 0 1,0 -11.4,0M153.9,698.3a5.7,5.7 0 1,0 11.4,0a5.7,5.7 0 1,0 -11.4,0M157.6,694.0a5.7,5.7 0 1,0 11.4,0a5.7,5.7 0 1,0 -11.4,0M161.3,689.4a5.7,5.7 0 1,0 11.4,0a5.7,5.7 0 1,0 -11.4,0M165.1,683.4a5.7,5.7 0 1,0 11.4,0a5.7,5.7 0 1,0 -11.4,0M168.8,675.5a5.7,5.7 0 1,0 11.4,0a5.7,5.7 0 1,0 -11.4,0M172.5,666.6a5.7,5.7 0 1,0 11.4,0a5.7,5.7 0 1,0 -11.4,0M176.2,660.3a5.7,5.7 0 1,0 11.4,0a5.7,5.7 0 1,0 -11.4,0M180.0,656.0a5.7,5.7 0 1,0 11.4,0a5.7,5.7 0 1,0 -11.4,0M183.7,652.8a5.7,5.7 0 1,0 11.4,0a5.7,5.7 0 1,0 -11.4,0M187.4,650.8a5.7,5.7 0 1,0 11.4,0a5.7,5.7 0 1,0 -11.4,0M191.1,649.4a5.7,5.7 0 1,0 11.4,0a5.7,5.7 0 1,0 -11.4,0M194.9,648.2a5.7,5.7 0 1,0 11.4,0a5.7,5.7 0 1,0 -11.4,0M198.6,647.0a5.7,5.7 0 1,0 11.4,0a5.7,5.7 0 1,0 -11.4,0M202.3,645.9a5.7,5.7 0 1,0 11.4,0a5.7,5.7 0 1,0 -11.4,0M206.1,644.6a5.7,5.7 0 1,0 11.4,0a5.7,5.7 0 1,0 -11.4,0M209.8,642.6a5.7,5.7 0 1,0 11.4,0a5.7,5.7 0 1,0 -11.4,0M213.5,639.0a5.7,5.7 0 1,0 11.4,0a5.7,5.7 0 1,0 -11.4,0M217.2,634.4a5.7,5.7 0 1,0 11.4,0a5.7,5.7 0 1,0 -11.4,0M221.0,628.7a5.7,5.7 0 1,0 11.4,0a5.7,5.7 0 1,0 -11.4,0M224.7,619.4a5.7,5.7 0 1,0 11.4,0a5.7,5.7 0 1,0 -11.4,0M228.4,606.5a5.7,5.7 0 1,0 11.4,0a5.7,5.7 0 1,0 -11.4,0M232.1,582.0a5.7,5.7 0 1,0 11.4,0a5.7,5.7 0 1,0 -11.4,0M235.9,564.1a5.7,5.7 0 1,0 11.4,0a5.7,5.7 0 1,0 -11.4,0M239.6,536.0a5.7,5.7 0 1,0 11.4,0a5.7,5.7 0 1,0 -11.4,0M243.3,519.0a5.7,5.7 0 1,0 11.4,0a5.7,5.7 0 1,0 -11.4,0M247.0,498.5a5.7,5.7 0 1,0 11.4,0a5.7,5.7 0 1,0 -11.4,0M250.8,479.8a5.7,5.7 0 1,0 11.4,0a5.7,5.7 0 1,0 -11.4,0M254.5,462.0a5.7,5.7 0 1,0 11.4,0a5.7,5.7 0 1,0 -11.4,0M258.2,448.4a5.7,5.7 0 1,0 11.4,0a5.7,5.7 0 1,0 -11.4,0M262.0,437.7a5.7,5.7 0 1,0 11.4,0a5.7,5.7 0 1,0 -11.4,0M265.7,428.8a5.7,5.7 0 1,0 11.4,0a5.7,5.7 0 1,0 -11.4,0M269.4,422.5a5.7,5.7 0 1,0 11.4,0a5.7,5.7 0 1,0 -11.4,0M273.1,418.8a5.7,5.7 0 1,0 11.4,0a5.7,5.7 0 1,0 -11.4,0M276.9,418.2a5.7,5.7 0 1,0 11.4,0a5.7,5.7 0 1,0 -11.4,0M280.6,421.3a5.7,5.7 0 1,0 11.4,0a5.7,5.7 0 1,0 -11.4,0M284.3,428.0a5.7,5.7 0 1,0 11.4,0a5.7,5.7 0 1,0 -11.4,0M288.0,442.2a5.7,5.7 0 1,0 11.4,0a5.7,5.7 0 1,0 -11.4,0M291.8,460.0a5.7,5.7 0 1,0 11.4,0a5.7,5.7 0 1,0 -11.4,0M295.5,475.1a5.7,5.7 0 1,0 11.4,0a5.7,5.7 0 1,0 -11.4,0M299.2,499.1a5.7,5.7 0 1,0 11.4,0a5.7,5.7 0 1,0 -11.4,0M302.9,525.3a5.7,5.7 0 1,0 11.4,0a5.7,5.7 0 1,0 -11.4,0M306.7,550.1a5.7,5.7 0 1,0 11.4,0a5.7,5.7 0 1,0 -11.4,0M310.4,574.3a5.7,5.7 0 1,0 11.4,0a5.7,5.7 0 1,0 -11.4,0M314.1,598.6a5.7,5.7 0 1,0 11.4,0a5.7,5.7 0 1,0 -11.4,0M317.8,625.9a5.7,5.7 0 1,0 11.4,0a5.7,5.7 0 1,0 -11.4,0M321.6,648.5a5.7,5.7 0 1,0 11.4,0a5.7,5.7 0 1,0 -11.4,0M325.3,670.9a5.7,5.7 0 1,0 11.4,0a5.7,5.7 0 1,0 -11.4,0M329.0,676.0a5.7,5.7 0 1,0 11.4,0a5.7,5.7 0 1,0 -11.4,0M332.8,672.8a5.7,5.7 0 1,0 11.4,0a5.7,5.7 0 1,0 -11.4,0M336.5,669.6a5.7,5.7 0 1,0 11.4,0a5.7,5.7 0 1,0 -11.4,0M340.2,669.7a5.7,5.7 0 1,0 11.4,0a5.7,5.7 0 1,0 -11.4,0M343.9,675.8a5.7,5.7 0 1,0 11.4,0a5.7,5.7 0 1,0 -11.4,0M347.7,681.9a5.7,5.7 0 1,0 11.4,0a5.7,5.7 0 1,0 -11.4,0M351.4,688.1a5.7,5.7 0 1,0 11.4,0a5.7,5.7 0 1,0 -11.4,0M355.1,693.1a5.7,5.7 0 1,0 11.4,0a5.7,5.7 0 1,0 -11.4,0M358.8,697.7a5.7,5.7 0 1,0 11.4,0a5.7,5.7 0 1,0 -11.4,0M362.6,701.3a5.7,5.7 0 1,0 11.4,0a5.7,5.7 0 1,0 -11.4,0M366.3,702.3a5.7,5.7 0 1,0 11.4,0a5.7,5.7 0 1,0 -11.4,0M370.0,696.5a5.7,5.7 0 1,0 11.4,0a5.7,5.7 0 1,0 -11.4,0M373.7,680.5a5.7,5.7 0 1,0 11.4,0a5.7,5.7 0 1,0 -11.4,0M377.5,662.3a5.7,5.7 0 1,0 11.4,0a5.7,5.7 0 1,0 -11.4,0M381.2,645.1a5.7,5.7 0 1,0 11.4,0a5.7,5.7 0 1,0 -11.4,0M384.9,632.0a5.7,5.7 0 1,0 11.4,0a5.7,5.7 0 1,0 -11.4,0M388.7,615.3a5.7,5.7 0 1,0 11.4,0a5.7,5.7 0 1,0 -11.4,0M392.4,601.5a5.7,5.7 0 1,0 11.4,0a5.7,5.7 0 1,0 -11.4,0M396.1,589.5a5.7,5.7 0 1,0 11.4,0a5.7,5.7 0 1,0 -11.4,0M399.8,578.9a5.7,5.7 0 1,0 11.4,0a5.7,5.7 0 1,0 -11.4,0M403.6,570.3a5.7,5.7 0 1,0 11.4,0a5.7,5.7 0 1,0 -11.4,0M407.3,564.9a5.7,5.7 0 1,0 11.4,0a5.7,5.7 0 1,0 -11.4,0M411.0,562.6a5.7,5.7 0 1,0 11.4,0a5.7,5.7 0 1,0 -11.4,0M414.7,564.5a5.7,5.7 0 1,0 11.4,0a5.7,5.7 0 1,0 -11.4,0M418.5,568.3a5.7,5.7 0 1,0 11.4,0a5.7,5.7 0 1,0 -11.4,0M422.2,573.7a5.7,5.7 0 1,0 11.4,0a5.7,5.7 0 1,0 -11.4,0M425.9,581.6a5.7,5.7 0 1,0 11.4,0a5.7,5.7 0 1,0 -11.4,0M429.6,589.9a5.7,5.7 0 1,0 11.4,0a5.7,5.7 0 1,0 -11.4,0M433.4,598.9a5.7,5.7 0 1,0 11.4,0a5.7,5.7 0 1,0 -11.4,0M437.1,608.9a5.7,5.7 0 1,0 11.4,0a5.7,5.7 0 1,0 -11.4,0M440.8,619.5a5.7,5.7 0 1,0 11.4,0a5.7,5.7 0 1,0 -11.4,0M444.6,630.4a5.7,5.7 0 1,0 11.4,0a5.7,5.7 0 1,0 -11.4,0M448.3,640.3a5.7,5.7 0 1,0 11.4,0a5.7,5.7 0 1,0 -11.4,0M452.0,649.2a5.7,5.7 0 1,0 11.4,0a5.7,5.7 0 1,0 -11.4,0M455.7,657.3a5.7,5.7 0 1,0 11.4,0a5.7,5.7 0 1,0 -11.4,0M459.5,664.3a5.7,5.7 0 1,0 11.4,0a5.7,5.7 0 1,0 -11.4,0M463.2,669.8a5.7,5.7 0 1,0 11.4,0a5.7,5.7 0 1,0 -11.4,0M466.9,674.4a5.7,5.7 0 1,0 11.4,0a5.7,5.7 0 1,0 -11.4,0M470.6,678.0a5.7,5.7 0 1,0 11.4,0a5.7,5.7 0 1,0 -11.4,0M474.4,681.1a5.7,5.7 0 1,0 11.4,0a5.7,5.7 0 1,0 -11.4,0M478.1,682.5a5.7,5.7 0 1,0 11.4,0a5.7,5.7 0 1,0 -11.4,0M481.8,681.9a5.7,5.7 0 1,0 11.4,0a5.7,5.7 0 1,0 -11.4,0M485.5,680.4a5.7,5.7 0 1,0 11.4,0a5.7,5.7 0 1,0 -11.4,0M489.3,678.5a5.7,5.7 0 1,0 11.4,0a5.7,5.7 0 1,0 -11.4,0M493.0,676.6a5.7,5.7 0 1,0 11.4,0a5.7,5.7 0 1,0 -11.4,0M496.7,674.8a5.7,5.7 0 1,0 11.4,0a5.7,5.7 0 1,0 -11.4,0M500.5,672.5a5.7,5.7 0 1,0 11.4,0a5.7,5.7 0 1,0 -11.4,0M504.2,670.3a5.7,5.7 0 1,0 11.4,0a5.7,5.7 0 1,0 -11.4,0M507.9,669.0a5.7,5.7 0 1,0 11.4,0a5.7,5.7 0 1,0 -11.4,0M511.6,669.2a5.7,5.7 0 1,0 11.4,0a5.7,5.7 0 1,0 -11.4,0M515.4,671.4a5.7,5.7 0 1,0 11.4,0a5.7,5.7 0 1,0 -11.4,0M519.1,674.8a5.7,5.7 0 1,0 11.4,0a5.7,5.7 0 1,0 -11.4,0M522.8,678.7a5.7,5.7 0 1,0 11.4,0a5.7,5.7 0 1,0 -11.4,0M526.5,682.2a5.7,5.7 0 1,0 11.4,0a5.7,5.7 0 1,0 -11.4,0M530.3,686.1a5.7,5.7 0 1,0 11.4,0a5.7,5.7 0 1,0 -11.4,0M534.0,690.1a5.7,5.7 0 1,0 11.4,0a5.7,5.7 0 1,0 -11.4,0M537.7,693.6a5.7,5.7 0 1,0 11.4,0a5.7,5.7 0 1,0 -11.4,0M541.4,696.3a5.7,5.7 0 1,0 11.4,0a5.7,5.7 0 1,0 -11.4,0M545.2,698.7a5.7,5.7 0 1,0 11.4,0a5.7,5.7 0 1,0 -11.4,0M548.9,699.3a5.7,5.7 0 1,0 11.4,0a5.7,5.7 0 1,0 -11.4,0M552.6,698.7a5.7,5.7 0 1,0 11.4,0a5.7,5.7 0 1,0 -11.4,0M556.4,697.7a5.7,5.7 0 1,0 11.4,0a5.7,5.7 0 1,0 -11.4,0M560.1,696.4a5.7,5.7 0 1,0 11.4,0a5.7,5.7 0 1,0 -11.4,0M563.8,695.1a5.7,5.7 0 1,0 11.4,0a5.7,5.7 0 1,0 -11.4,0M567.5,694.3a5.7,5.7 0 1,0 11.4,0a5.7,5.7 0 1,0 -11.4,0M571.3,694.1a5.7,5.7 0 1,0 11.4,0a5.7,5.7 0 1,0 -11.4,0M575.0,695.6a5.7,5.7 0 1,0 11.4,0a5.7,5.7 0 1,0 -11.4,0M578.7,698.3a5.7,5.7 0 1,0 11.4,0a5.7,5.7 0 1,0 -11.4,0M582.4,701.3a5.7,5.7 0 1,0 11.4,0a5.7,5.7 0 1,0 -11.4,0M586.2,703.7a5.7,5.7 0 1,0 11.4,0a5.7,5.7 0 1,0 -11.4,0M589.9,706.0a5.7,5.7 0 1,0 11.4,0a5.7,5.7 0 1,0 -11.4,0M593.6,708.4a5.7,5.7 0 1,0 11.4,0a5.7,5.7 0 1,0 -11.4,0M597.3,710.3a5.7,5.7 0 1,0 11.4,0a5.7,5.7 0 1,0 -11.4,0M601.1,711.2a5.7,5.7 0 1,0 11.4,0a5.7,5.7 0 1,0 -11.4,0M604.8,710.7a5.7,5.7 0 1,0 11.4,0a5.7,5.7 0 1,0 -11.4,0M608.5,708.5a5.7,5.7 0 1,0 11.4,0a5.7,5.7 0 1,0 -11.4,0M612.3,705.8a5.7,5.7 0 1,0 11.4,0a5.7,5.7 0 1,0 -11.4,0M616.0,703.9a5.7,5.7 0 1,0 11.4,0a5.7,5.7 0 1,0 -11.4,0M619.7,702.3a5.7,5.7 0 1,0 11.4,0a5.7,5.7 0 1,0 -11.4,0M623.4,700.8a5.7,5.7 0 1,0 11.4,0a5.7,5.7 0 1,0 -11.4,0M627.2,699.9a5.7,5.7 0 1,0 11.4,0a5.7,5.7 0 1,0 -11.4,0M630.9,699.8a5.7,5.7 0 1,0 11.4,0a5.7,5.7 0 1,0 -11.4,0M634.6,700.2a5.7,5.7 0 1,0 11.4,0a5.7,5.7 0 1,0 -11.4,0M638.3,700.8a5.7,5.7 0 1,0 11.4,0a5.7,5.7 0 1,0 -11.4,0M642.1,701.5a5.7,5.7 0 1,0 11.4,0a5.7,5.7 0 1,0 -11.4,0M645.8,702.1a5.7,5.7 0 1,0 11.4,0a5.7,5.7 0 1,0 -11.4,0M649.5,702.4a5.7,5.7 0 1,0 11.4,0a5.7,5.7 0 1,0 -11.4,0M653.2,702.5a5.7,5.7 0 1,0 11.4,0a5.7,5.7 0 1,0 -11.4,0M657.0,702.6a5.7,5.7 0 1,0 11.4,0a5.7,5.7 0 1,0 -11.4,0M660.7,702.6a5.7,5.7 0 1,0 11.4,0a5.7,5.7 0 1,0 -11.4,0M664.4,702.7a5.7,5.7 0 1,0 11.4,0a5.7,5.7 0 1,0 -11.4,0M668.1,702.7a5.7,5.7 0 1,0 11.4,0a5.7,5.7 0 1,0 -11.4,0M671.9,702.8a5.7,5.7 0 1,0 11.4,0a5.7,5.7 0 1,0 -11.4,0M675.6,702.9a5.7,5.7 0 1,0 11.4,0a5.7,5.7 0 1,0 -11.4,0M679.3,703.4a5.7,5.7 0 1,0 11.4,0a5.7,5.7 0 1,0 -11.4,0M683.1,704.2a5.7,5.7 0 1,0 11.4,0a5.7,5.7 0 1,0 -11.4,0M686.8,705.2a5.7,5.7 0 1,0 11.4,0a5.7,5.7 0 1,0 -11.4,0M690.5,706.4a5.7,5.7 0 1,0 11.4,0a5.7,5.7 0 1,0 -11.4,0M694.2,707.5a5.7,5.7 0 1,0 11.4,0a5.7,5.7 0 1,0 -11.4,0M698.0,708.6a5.7,5.7 0 1,0 11.4,0a5.7,5.7 0 1,0 -11.4,0M701.7,709.4a5.7,5.7 0 1,0 11.4,0a5.7,5.7 0 1,0 -11.4,0M705.4,709.9a5.7,5.7 0 1,0 11.4,0a5.7,5.7 0 1,0 -11.4,0M709.1,709.9a5.7,5.7 0 1,0 11.4,0a5.7,5.7 0 1,0 -11.4,0M712.9,708.9a5.7,5.7 0 1,0 11.4,0a5.7,5.7 0 1,0 -11.4,0M716.6,707.4a5.7,5.7 0 1,0 11.4,0a5.7,5.7 0 1,0 -11.4,0M720.3,705.4a5.7,5.7 0 1,0 11.4,0a5.7,5.7 0 1,0 -11.4,0M724.0,703.4a5.7,5.7 0 1,0 11.4,0a5.7,5.7 0 1,0 -11.4,0M727.8,701.6a5.7,5.7 0 1,0 11.4,0a5.7,5.7 0 1,0 -11.4,0M731.5,700.4a5.7,5.7 0 1,0 11.4,0a5.7,5.7 0 1,0 -11.4,0M735.2,699.3a5.7,5.7 0 1,0 11.4,0a5.7,5.7 0 1,0 -11.4,0M739.0,698.2a5.7,5.7 0 1,0 11.4,0a5.7,5.7 0 1,0 -11.4,0M742.7,697.2a5.7,5.7 0 1,0 11.4,0a5.7,5.7 0 1,0 -11.4,0M746.4,696.4a5.7,5.7 0 1,0 11.4,0a5.7,5.7 0 1,0 -11.4,0M750.1,695.7a5.7,5.7 0 1,0 11.4,0a5.7,5.7 0 1,0 -11.4,0M753.9,695.4a5.7,5.7 0 1,0 11.4,0a5.7,5.7 0 1,0 -11.4,0M757.6,695.4a5.7,5.7 0 1,0 11.4,0a5.7,5.7 0 1,0 -11.4,0M761.3,695.9a5.7,5.7 0 1,0 11.4,0a5.7,5.7 0 1,0 -11.4,0M765.0,696.6a5.7,5.7 0 1,0 11.4,0a5.7,5.7 0 1,0 -11.4,0M768.8,697.6a5.7,5.7 0 1,0 11.4,0a5.7,5.7 0 1,0 -11.4,0M772.5,698.7a5.7,5.7 0 1,0 11.4,0a5.7,5.7 0 1,0 -11.4,0M776.2,699.8a5.7,5.7 0 1,0 11.4,0a5.7,5.7 0 1,0 -11.4,0M779.9,700.9a5.7,5.7 0 1,0 11.4,0a5.7,5.7 0 1,0 -11.4,0M783.7,702.0a5.7,5.7 0 1,0 11.4,0a5.7,5.7 0 1,0 -11.4,0M787.4,703.3a5.7,5.7 0 1,0 11.4,0a5.7,5.7 0 1,0 -11.4,0M791.1,704.6a5.7,5.7 0 1,0 11.4,0a5.7,5.7 0 1,0 -11.4,0M794.9,705.9a5.7,5.7 0 1,0 11.4,0a5.7,5.7 0 1,0 -11.4,0M798.6,707.3a5.7,5.7 0 1,0 11.4,0a5.7,5.7 0 1,0 -11.4,0M802.3,708.7a5.7,5.7 0 1,0 11.4,0a5.7,5.7 0 1,0 -11.4,0M806.0,710.1a5.7,5.7 0 1,0 11.4,0a5.7,5.7 0 1,0 -11.4,0M809.8,711.6a5.7,5.7 0 1,0 11.4,0a5.7,5.7 0 1,0 -11.4,0M813.5,713.1a5.7,5.7 0 1,0 11.4,0a5.7,5.7 0 1,0 -11.4,0" fill="none" stroke="#5c5c5c" stroke-width="1.7"/>
<polyline points="92.5,689.8 93.7,690.2 94.9,690.6 96.1,691.0 97.4,691.4 98.6,691.8 99.8,692.1 101.0,692.5 102.2,692.8 103.4,693.1 104.6,693.5 105.9,693.8 107.1,694.2 108.3,694.5 109.5,694.9 110.7,695.2 111.9,695.6 113.1,695.9 114.4,696.2 115.6,696.4 116.8,696.7 118.0,696.9 119.2,697.0 120.4,697.1 121.7,697.1 122.9,697.0 124.1,696.8 125.3,696.4 126.5,695.9 127.7,695.3 128.9,694.6 130.2,693.9 131.4,693.1 132.6,692.4 133.8,691.6 135.0,690.9 136.2,690.2 137.4,689.4 138.7,688.5 139.9,687.6 141.1,686.7 142.3,685.7 143.5,684.8 144.7,684.0 145.9,683.2 147.2,682.6 148.4,682.1 149.6,681.6 150.8,681.2 152.0,680.7 153.2,680.4 154.4,680.0 155.7,679.8 156.9,679.7 158.1,679.7 159.3,679.8 160.5,680.0 161.7,680.4 163.0,680.7 164.2,681.1 165.4,681.5 166.6,681.8 167.8,682.0 169.0,682.1 170.2,681.9 171.5,681.6 172.7,681.0 173.9,680.3 175.1,679.5 176.3,678.6 177.5,677.6 178.7,676.5 180.0,675.0 181.2,673.2 182.4,671.1 183.6,668.9 184.8,666.5 186.0,664.1 187.2,661.8 188.5,659.5 189.7,657.3 190.9,655.2 192.1,653.0 193.3,650.8 194.5,648.6 195.7,646.4 197.0,644.2 198.2,642.0 199.4,639.9 200.6,637.9 201.8,636.0 203.0,634.2 204.2,632.5 205.5,630.8 206.7,629.3 207.9,627.7 209.1,626.2 210.3,624.8 211.5,623.3 212.8,621.9 214.0,620.4 215.2,619.0 216.4,617.6 217.6,616.4 218.8,615.2 220.0,614.0 221.3,612.9 222.5,611.7 223.7,610.4 224.9,609.0 226.1,607.5 227.3,605.8 228.5,603.9 229.8,601.7 231.0,598.7 232.2,595.1 233.4,591.2 234.6,586.9 235.8,582.7 237.0,578.7 238.3,574.4 239.5,570.0 240.7,565.6 241.9,561.2 243.1,557.0 244.3,552.8 245.5,548.4 246.8,543.9 248.0,539.2 249.2,534.5 250.4,529.5 251.6,524.5 252.8,519.3 254.1,514.0 255.3,508.6 256.5,503.0 257.7,497.0 258.9,490.4 260.1,482.9 261.3,475.4 262.6,468.3 263.8,462.3 265.0,456.9 266.2,452.3 267.4,448.4 268.6,444.8 269.8,441.5 271.1,438.6 272.3,436.0 273.5,433.8 274.7,431.8 275.9,429.8 277.1,427.9 278.3,426.3 279.6,425.2 280.8,424.5 282.0,424.6 283.2,425.2 284.4,426.2 285.6,427.5 286.8,429.2 288.1,431.0 289.3,432.8 290.5,434.8 291.7,437.2 292.9,440.2 294.1,443.5 295.3,447.2 296.6,451.4 297.8,456.6 299.0,462.2 300.2,467.7 301.4,473.3 302.6,479.1 303.9,484.9 305.1,490.8 306.3,496.7 307.5,502.3 308.7,508.2 309.9,514.7 311.1,522.4 312.4,531.7 313.6,541.6 314.8,551.2 316.0,560.6 317.2,570.2 318.4,579.7 319.6,588.8 320.9,597.5 322.1,606.0 323.3,614.3 324.5,622.3 325.7,629.6 326.9,636.0 328.1,641.7 329.4,646.9 330.6,651.7 331.8,656.1 333.0,660.1 334.2,664.1 335.4,668.4 336.6,672.5 337.9,676.1 339.1,679.1 340.3,681.0 341.5,681.6 342.7,681.0 343.9,679.8 345.2,678.1 346.4,676.3 347.6,674.6 348.8,673.2 350.0,672.1 351.2,671.0 352.4,669.9 353.7,668.8 354.9,667.8 356.1,667.0 357.3,666.3 358.5,665.9 359.7,665.8 360.9,666.1 362.2,666.8 363.4,667.8 364.6,669.1 365.8,670.6 367.0,672.2 368.2,673.8 369.4,675.4 370.7,676.9 371.9,678.2 373.1,679.5 374.3,681.0 375.5,682.6 376.7,684.2 377.9,685.9 379.2,687.5 380.4,688.9 381.6,690.3 382.8,691.5 384.0,692.4 385.2,693.1 386.4,693.5 387.7,693.6 388.9,693.3 390.1,692.9 391.3,692.3 392.5,691.6 393.7,690.8 395.0,690.0 396.2,689.1 397.4,688.3 398.6,687.5 399.8,686.9 401.0,686.4 402.2,685.9 403.5,685.4 404.7,684.9 405.9,684.4 407.1,684.0 408.3,683.7 409.5,683.5 410.7,683.4 412.0,683.5 413.2,683.8 414.4,684.3 415.6,684.9 416.8,685.6 418.0,686.5 419.2,687.4 420.5,688.4 421.7,689.3 422.9,690.3 424.1,691.3 425.3,692.1 426.5,692.9 427.7,693.6 429.0,694.2 430.2,694.9 431.4,695.5 432.6,696.2 433.8,696.9 435.0,697.6 436.3,698.2 437.5,698.7 438.7,699.2 439.9,699.6 441.1,700.0 442.3,700.2 443.5,700.2 444.8,700.2 446.0,700.1 447.2,699.9 448.4,699.7 449.6,699.5 450.8,699.2 452.0,698.9 453.3,698.6 454.5,698.3 455.7,698.0 456.9,697.7 458.1,697.4 459.3,697.2 460.5,697.0 461.8,696.9 463.0,696.8 464.2,696.8 465.4,696.9 466.6,697.1 467.8,697.4 469.0,697.7 470.3,698.0 471.5,698.5 472.7,698.9 473.9,699.4 475.1,699.9 476.3,700.5 477.5,701.0 478.8,701.6 480.0,702.2 481.2,702.7 482.4,703.2 483.6,703.7 484.8,704.2 486.1,704.6 487.3,705.0 488.5,705.3 489.7,705.6 490.9,705.7 492.1,705.8 493.3,705.8 494.6,705.8 495.8,705.6 497.0,705.5 498.2,705.3 499.4,705.0 500.6,704.7 501.8,704.4 503.1,704.1 504.3,703.8 505.5,703.5 506.7,703.2 507.9,703.0 509.1,702.8 510.3,702.6 511.6,702.5 512.8,702.4 514.0,702.5 515.2,702.5 516.4,702.7 517.6,702.9 518.8,703.1 520.1,703.4 521.3,703.7 522.5,704.1 523.7,704.5 524.9,704.9 526.1,705.3 527.4,705.7 528.6,706.1 529.8,706.5 531.0,706.9 532.2,707.3 533.4,707.7 534.6,708.0 535.9,708.3 537.1,708.6 538.3,708.8 539.5,709.0 540.7,709.1 541.9,709.2 543.1,709.2 544.4,709.1 545.6,709.1 546.8,708.9 548.0,708.8 549.2,708.6 550.4,708.4 551.6,708.2 552.9,707.9 554.1,707.7 555.3,707.4 556.5,707.2 557.7,706.9 558.9,706.7 560.1,706.5 561.4,706.3 562.6,706.1 563.8,706.0 565.0,705.9 566.2,705.9 567.4,705.8 568.6,705.9 569.9,705.9 571.1,706.0 572.3,706.1 573.5,706.2 574.7,706.4 575.9,706.6 577.2,706.7 578.4,706.9 579.6,707.2 580.8,707.4 582.0,707.6 583.2,707.9 584.4,708.1 585.7,708.3 586.9,708.6 588.1,708.8 589.3,709.0 590.5,709.3 591.7,709.5 592.9,709.7 594.2,709.9 595.4,710.0 596.6,710.2 597.8,710.3 599.0,710.4 600.2,710.5 601.4,710.6 602.7,710.7 603.9,710.8 605.1,710.9 606.3,711.0 607.5,711.1 608.7,711.1 609.9,711.2 611.2,711.3 612.4,711.4 613.6,711.5 614.8,711.5 616.0,711.6 617.2,711.7 618.5,711.8 619.7,711.8 620.9,711.9 622.1,712.0 623.3,712.0 624.5,712.1 625.7,712.1 627.0,712.2 628.2,712.2 629.4,712.3 630.6,712.3 631.8,712.4 633.0,712.4 634.2,712.5 635.5,712.5 636.7,712.5 637.9,712.6 639.1,712.6 640.3,712.6 641.5,712.6 642.7,712.7 644.0,712.7 645.2,712.7 646.4,712.7 647.6,712.7 648.8,712.8 650.0,712.8 651.2,712.8 652.5,712.8 653.7,712.8 654.9,712.8 656.1,712.8 657.3,712.9 658.5,712.9 659.7,712.9 661.0,712.9 662.2,712.9 663.4,712.9 664.6,712.9 665.8,712.9 667.0,713.0 668.3,713.0 669.5,713.0 670.7,713.0 671.9,713.0 673.1,713.0 674.3,713.0 675.5,713.1 676.8,713.1 678.0,713.1 679.2,713.1 680.4,713.1 681.6,713.2 682.8,713.2 684.0,713.2 685.3,713.2 686.5,713.3 687.7,713.3 688.9,713.3 690.1,713.4 691.3,713.4 692.5,713.4 693.8,713.4 695.0,713.5 696.2,713.5 697.4,713.5 698.6,713.6 699.8,713.6 701.0,713.6 702.3,713.6 703.5,713.7 704.7,713.7 705.9,713.7 707.1,713.7 708.3,713.8 709.6,713.8 710.8,713.8 712.0,713.8 713.2,713.9 714.4,713.9 715.6,713.9 716.8,713.9 718.1,713.9 719.3,713.9 720.5,713.9 721.7,713.9 722.9,713.9 724.1,713.9 725.3,713.9 726.6,713.9 727.8,713.9 729.0,713.9 730.2,713.9 731.4,713.9 732.6,713.9 733.8,713.9 735.1,713.9 736.3,713.9 737.5,713.9 738.7,713.9 739.9,713.9 741.1,713.9 742.3,713.9 743.6,713.9 744.8,713.9 746.0,713.9 747.2,713.9 748.4,713.9 749.6,713.9 750.8,713.9 752.1,713.9 753.3,713.9 754.5,713.9 755.7,713.9 756.9,713.9 758.1,713.9 759.4,713.9 760.6,713.9 761.8,713.9 763.0,713.9 764.2,713.9 765.4,713.9 766.6,713.9 767.9,713.9 769.1,713.9 770.3,713.9 771.5,713.9 772.7,713.9 773.9,713.9 775.1,713.9 776.4,713.9 777.6,714.0 778.8,714.0 780.0,714.0 781.2,714.0 782.4,714.0 783.6,714.0 784.9,714.0 786.1,714.0 787.3,714.0 788.5,714.1 789.7,714.1 790.9,714.1 792.1,714.1 793.4,714.1 794.6,714.2 795.8,714.2 797.0,714.2 798.2,714.2 799.4,714.3 800.7,714.3 801.9,714.3 803.1,714.4 804.3,714.4 805.5,714.4 806.7,714.4 807.9,714.5 809.2,714.5 810.4,714.5 811.6,714.6 812.8,714.6 814.0,714.6 815.2,714.7 816.4,714.7 817.7,714.7 818.9,714.8 820.1,714.8 821.3,714.8" fill="none" stroke="#a00000" stroke-width="4.8" stroke-linejoin="round"/>
</g>
<g clip-path="url(#cp2)">
<path d="M86.8,1073.1a5.7,5.7 0 1,0 11.4,0a5.7,5.7 0 1,0 -11.4,0M90.5,1069.8a5.7,5.7 0 1,0 11.4,0a5.7,5.7 0 1,0 -11.4,0M94.3,1066.6a5.7,5.7 0 1,0 11.4,0a5.7,5.7 0 1,0 -11.4,0M98.0,1063.4a5.7,5.7 0 1,0 11.4,0a5.7,5.7 0 1,0 -11.4,0M101.7,1060.4a5.7,5.7 0 1,0 11.4,0a5.7,5.7 0 1,0 -11.4,0M105.4,1057.5a5.7,5.7 0 1,0 11.4,0a5.7,5.7 0 1,0 -11.4,0M109.2,1054.7a5.7,5.7 0 1,0 11.4,0a5.7,5.7 0 1,0 -11.4,0M112.9,1051.8a5.7,5.7 0 1,0 11.4,0a5.7,5.7 0 1,0 -11.4,0M116.6,1048.8a5.7,5.7 0 1,0 11.4,0a5.7,5.7 0 1,0 -11.4,0M120.3,1046.1a5.7,5.7 0 1,0 11.4,0a5.7,5.7 0 1,0 -11.4,0M124.1,1043.8a5.7,5.7 0 1,0 11.4,0a5.7,5.7 0 1,0 -11.4,0M127.8,1042.0a5.7,5.7 0 1,0 11.4,0a5.7,5.7 0 1,0 -11.4,0M131.5,1040.7a5.7,5.7 0 1,0 11.4,0a5.7,5.7 0 1,0 -11.4,0M135.2,1039.7a5.7,5.7 0 1,0 11.4,0a5.7,5.7 0 1,0 -11.4,0M139.0,1038.9a5.7,5.7 0 1,0 11.4,0a5.7,5.7 0 1,0 -11.4,0M142.7,1038.5a5.7,5.7 0 1,0 11.4,0a5.7,5.7 0 1,0 -11.4,0M146.4,1038.8a5.7,5.7 0 1,0 11.4,0a5.7,5.7 0 1,0 -11.4,0M150.2,1039.7a5.7,5.7 0 1,0 11.4,0a5.7,5.7 0 1,0 -11.4,0M153.9,1040.9a5.7,5.7 0 1,0 11.4,0a5.7,5.7 0 1,0 -11.4,0M157.6,1042.2a5.7,5.7 0 1,0 11.4,0a5.7,5.7 0 1,0 -11.4,0M161.3,1043.5a5.7,5.7 0 1,0 11.4,0a5.7,5.7 0 1,0 -11.4,0M165.1,1045.1a5.7,5.7 0 1,0 11.4,0a5.7,5.7 0 1,0 -11.4,0M168.8,1046.2a5.7,5.7 0 1,0 11.4,0a5.7,5.7 0 1,0 -11.4,0M172.5,1044.3a5.7,5.7 0 1,0 11.4,0a5.7,5.7 0 1,0 -11.4,0M176.2,1039.4a5.7,5.7 0 1,0 11.4,0a5.7,5.7 0 1,0 -11.4,0M180.0,1033.3a5.7,5.7 0 1,0 11.4,0a5.7,5.7 0 1,0 -11.4,0M183.7,1024.5a5.7,5.7 0 1,0 11.4,0a5.7,5.7 0 1,0 -11.4,0M187.4,1013.2a5.7,5.7 0 1,0 11.4,0a5.7,5.7 0 1,0 -11.4,0M191.1,999.7a5.7,5.7 0 1,0 11.4,0a5.7,5.7 0 1,0 -11.4,0M194.9,984.2a5.7,5.7 0 1,0 11.4,0a5.7,5.7 0 1,0 -11.4,0M198.6,968.7a5.7,5.7 0 1,0 11.4,0a5.7,5.7 0 1,0 -11.4,0M202.3,952.7a5.7,5.7 0 1,0 11.4,0a5.7,5.7 0 1,0 -11.4,0M206.1,936.2a5.7,5.7 0 1,0 11.4,0a5.7,5.7 0 1,0 -11.4,0M209.8,919.4a5.7,5.7 0 1,0 11.4,0a5.7,5.7 0 1,0 -11.4,0M213.5,902.4a5.7,5.7 0 1,0 11.4,0a5.7,5.7 0 1,0 -11.4,0M217.2,884.9a5.7,5.7 0 1,0 11.4,0a5.7,5.7 0 1,0 -11.4,0M221.0,868.0a5.7,5.7 0 1,0 11.4,0a5.7,5.7 0 1,0 -11.4,0M224.7,853.2a5.7,5.7 0 1,0 11.4,0a5.7,5.7 0 1,0 -11.4,0M228.4,839.7a5.7,5.7 0 1,0 11.4,0a5.7,5.7 0 1,0 -11.4,0M232.1,828.1a5.7,5.7 0 1,0 11.4,0a5.7,5.7 0 1,0 -11.4,0M235.9,818.9a5.7,5.7 0 1,0 11.4,0a5.7,5.7 0 1,0 -11.4,0M239.6,811.0a5.7,5.7 0 1,0 11.4,0a5.7,5.7 0 1,0 -11.4,0M243.3,804.4a5.7,5.7 0 1,0 11.4,0a5.7,5.7 0 1,0 -11.4,0M247.0,798.3a5.7,5.7 0 1,0 11.4,0a5.7,5.7 0 1,0 -11.4,0M250.8,794.2a5.7,5.7 0 1,0 11.4,0a5.7,5.7 0 1,0 -11.4,0M254.5,791.9a5.7,5.7 0 1,0 11.4,0a5.7,5.7 0 1,0 -11.4,0M258.2,790.5a5.7,5.7 0 1,0 11.4,0a5.7,5.7 0 1,0 -11.4,0M262.0,791.0a5.7,5.7 0 1,0 11.4,0a5.7,5.7 0 1,0 -11.4,0M265.7,793.2a5.7,5.7 0 1,0 11.4,0a5.7,5.7 0 1,0 -11.4,0M269.4,796.2a5.7,5.7 0 1,0 11.4,0a5.7,5.7 0 1,0 -11.4,0M273.1,801.2a5.7,5.7 0 1,0 11.4,0a5.7,5.7 0 1,0 -11.4,0M276.9,808.2a5.7,5.7 0 1,0 11.4,0a5.7,5.7 0 1,0 -11.4,0M280.6,816.2a5.7,5.7 0 1,0 11.4,0a5.7,5.7 0 1,0 -11.4,0M284.3,826.2a5.7,5.7 0 1,0 11.4,0a5.7,5.7 0 1,0 -11.4,0M288.0,835.7a5.7,5.7 0 1,0 11.4,0a5.7,5.7 0 1,0 -11.4,0M291.8,844.9a5.7,5.7 0 1,0 11.4,0a5.7,5.7 0 1,0 -11.4,0M295.5,858.4a5.7,5.7 0 1,0 11.4,0a5.7,5.7 0 1,0 -11.4,0M299.2,877.7a5.7,5.7 0 1,0 11.4,0a5.7,5.7 0 1,0 -11.4,0M302.9,897.6a5.7,5.7 0 1,0 11.4,0a5.7,5.7 0 1,0 -11.4,0M306.7,916.0a5.7,5.7 0 1,0 11.4,0a5.7,5.7 0 1,0 -11.4,0M310.4,933.5a5.7,5.7 0 1,0 11.4,0a5.7,5.7 0 1,0 -11.4,0M314.1,947.7a5.7,5.7 0 1,0 11.4,0a5.7,5.7 0 1,0 -11.4,0M317.8,961.7a5.7,5.7 0 1,0 11.4,0a5.7,5.7 0 1,0 -11.4,0M321.6,978.9a5.7,5.7 0 1,0 11.4,0a5.7,5.7 0 1,0 -11.4,0M325.3,995.2a5.7,5.7 0 1,0 11.4,0a5.7,5.7 0 1,0 -11.4,0M329.0,1009.9a5.7,5.7 0 1,0 11.4,0a5.7,5.7 0 1,0 -11.4,0M332.8,1024.9a5.7,5.7 0 1,0 11.4,0a5.7,5.7 0 1,0 -11.4,0M336.5,1040.1a5.7,5.7 0 1,0 11.4,0a5.7,5.7 0 1,0 -11.4,0M340.2,1053.2a5.7,5.7 0 1,0 11.4,0a5.7,5.7 0 1,0 -11.4,0M343.9,1064.7a5.7,5.7 0 1,0 11.4,0a5.7,5.7 0 1,0 -11.4,0M347.7,1074.5a5.7,5.7 0 1,0 11.4,0a5.7,5.7 0 1,0 -11.4,0M351.4,1083.2a5.7,5.7 0 1,0 11.4,0a5.7,5.7 0 1,0 -11.4,0M355.1,1091.2a5.7,5.7 0 1,0 11.4,0a5.7,5.7 0 1,0 -11.4,0M358.8,1097.5a5.7,5.7 0 1,0 11.4,0a5.7,5.7 0 1,0 -11.4,0M362.6,1102.5a5.7,5.7 0 1,0 11.4,0a5.7,5.7 0 1,0 -11.4,0M366.3,1103.8a5.7,5.7 0 1,0 11.4,0a5.7,5.7 0 1,0 -11.4,0M370.0,1099.8a5.7,5.7 0 1,0 11.4,0a5.7,5.7 0 1,0 -11.4,0M373.7,1093.8a5.7,5.7 0 1,0 11.4,0a5.7,5.7 0 1,0 -11.4,0M377.5,1087.3a5.7,5.7 0 1,0 11.4,0a5.7,5.7 0 1,0 -11.4,0M381.2,1081.1a5.7,5.7 0 1,0 11.4,0a5.7,5.7 0 1,0 -11.4,0M384.9,1075.0a5.7,5.7 0 1,0 11.4,0a5.7,5.7 0 1,0 -11.4,0M388.7,1067.8a5.7,5.7 0 1,0 11.4,0a5.7,5.7 0 1,0 -11.4,0M392.4,1060.4a5.7,5.7 0 1,0 11.4,0a5.7,5.7 0 1,0 -11.4,0M396.1,1054.0a5.7,5.7 0 1,0 11.4,0a5.7,5.7 0 1,0 -11.4,0M399.8,1048.4a5.7,5.7 0 1,0 11.4,0a5.7,5.7 0 1,0 -11.4,0M403.6,1044.0a5.7,5.7 0 1,0 11.4,0a5.7,5.7 0 1,0 -11.4,0M407.3,1040.2a5.7,5.7 0 1,0 11.4,0a5.7,5.7 0 1,0 -11.4,0M411.0,1037.2a5.7,5.7 0 1,0 11.4,0a5.7,5.7 0 1,0 -11.4,0M414.7,1035.3a5.7,5.7 0 1,0 11.4,0a5.7,5.7 0 1,0 -11.4,0M418.5,1033.6a5.7,5.7 0 1,0 11.4,0a5.7,5.7 0 1,0 -11.4,0M422.2,1032.4a5.7,5.7 0 1,0 11.4,0a5.7,5.7 0 1,0 -11.4,0M425.9,1031.8a5.7,5.7 0 1,0 11.4,0a5.7,5.7 0 1,0 -11.4,0M429.6,1032.2a5.7,5.7 0 1,0 11.4,0a5.7,5.7 0 1,0 -11.4,0M433.4,1033.5a5.7,5.7 0 1,0 11.4,0a5.7,5.7 0 1,0 -11.4,0M437.1,1035.5a5.7,5.7 0 1,0 11.4,0a5.7,5.7 0 1,0 -11.4,0M440.8,1037.6a5.7,5.7 0 1,0 11.4,0a5.7,5.7 0 1,0 -11.4,0M444.6,1040.7a5.7,5.7 0 1,0 11.4,0a5.7,5.7 0 1,0 -11.4,0M448.3,1044.6a5.7,5.7 0 1,0 11.4,0a5.7,5.7 0 1,0 -11.4,0M452.0,1048.5a5.7,5.7 0 1,0 11.4,0a5.7,5.7 0 1,0 -11.4,0M455.7,1051.7a5.7,5.7 0 1,0 11.4,0a5.7,5.7 0 1,0 -11.4,0M459.5,1054.4a5.7,5.7 0 1,0 11.4,0a5.7,5.7 0 1,0 -11.4,0M463.2,1057.2a5.7,5.7 0 1,0 11.4,0a5.7,5.7 0 1,0 -11.4,0M466.9,1060.8a5.7,5.7 0 1,0 11.4,0a5.7,5.7 0 1,0 -11.4,0M470.6,1064.9a5.7,5.7 0 1,0 11.4,0a5.7,5.7 0 1,0 -11.4,0M474.4,1068.7a5.7,5.7 0 1,0 11.4,0a5.7,5.7 0 1,0 -11.4,0M478.1,1071.7a5.7,5.7 0 1,0 11.4,0a5.7,5.7 0 1,0 -11.4,0M481.8,1073.1a5.7,5.7 0 1,0 11.4,0a5.7,5.7 0 1,0 -11.4,0M485.5,1072.9a5.7,5.7 0 1,0 11.4,0a5.7,5.7 0 1,0 -11.4,0M489.3,1072.3a5.7,5.7 0 1,0 11.4,0a5.7,5.7 0 1,0 -11.4,0M493.0,1071.3a5.7,5.7 0 1,0 11.4,0a5.7,5.7 0 1,0 -11.4,0M496.7,1070.2a5.7,5.7 0 1,0 11.4,0a5.7,5.7 0 1,0 -11.4,0M500.5,1069.1a5.7,5.7 0 1,0 11.4,0a5.7,5.7 0 1,0 -11.4,0M504.2,1068.2a5.7,5.7 0 1,0 11.4,0a5.7,5.7 0 1,0 -11.4,0M507.9,1067.7a5.7,5.7 0 1,0 11.4,0a5.7,5.7 0 1,0 -11.4,0M511.6,1067.9a5.7,5.7 0 1,0 11.4,0a5.7,5.7 0 1,0 -11.4,0M515.4,1069.3a5.7,5.7 0 1,0 11.4,0a5.7,5.7 0 1,0 -11.4,0M519.1,1071.9a5.7,5.7 0 1,0 11.4,0a5.7,5.7 0 1,0 -11.4,0M522.8,1075.1a5.7,5.7 0 1,0 11.4,0a5.7,5.7 0 1,0 -11.4,0M526.5,1078.6a5.7,5.7 0 1,0 11.4,0a5.7,5.7 0 1,0 -11.4,0M530.3,1082.1a5.7,5.7 0 1,0 11.4,0a5.7,5.7 0 1,0 -11.4,0M534.0,1085.2a5.7,5.7 0 1,0 11.4,0a5.7,5.7 0 1,0 -11.4,0M537.7,1088.2a5.7,5.7 0 1,0 11.4,0a5.7,5.7 0 1,0 -11.4,0M541.4,1091.6a5.7,5.7 0 1,0 11.4,0a5.7,5.7 0 1,0 -11.4,0M545.2,1095.2a5.7,5.7 0 1,0 11.4,0a5.7,5.7 0 1,0 -11.4,0M548.9,1098.6a5.7,5.7 0 1,0 11.4,0a5.7,5.7 0 1,0 -11.4,0M552.6,1101.5a5.7,5.7 0 1,0 11.4,0a5.7,5.7 0 1,0 -11.4,0M556.4,1103.5a5.7,5.7 0 1,0 11.4,0a5.7,5.7 0 1,0 -11.4,0M560.1,1104.3a5.7,5.7 0 1,0 11.4,0a5.7,5.7 0 1,0 -11.4,0M563.8,1103.3a5.7,5.7 0 1,0 11.4,0a5.7,5.7 0 1,0 -11.4,0M567.5,1100.6a5.7,5.7 0 1,0 11.4,0a5.7,5.7 0 1,0 -11.4,0M571.3,1097.1a5.7,5.7 0 1,0 11.4,0a5.7,5.7 0 1,0 -11.4,0M575.0,1093.5a5.7,5.7 0 1,0 11.4,0a5.7,5.7 0 1,0 -11.4,0M578.7,1090.7a5.7,5.7 0 1,0 11.4,0a5.7,5.7 0 1,0 -11.4,0M582.4,1088.9a5.7,5.7 0 1,0 11.4,0a5.7,5.7 0 1,0 -11.4,0M586.2,1087.0a5.7,5.7 0 1,0 11.4,0a5.7,5.7 0 1,0 -11.4,0M589.9,1085.3a5.7,5.7 0 1,0 11.4,0a5.7,5.7 0 1,0 -11.4,0M593.6,1083.9a5.7,5.7 0 1,0 11.4,0a5.7,5.7 0 1,0 -11.4,0M597.3,1082.8a5.7,5.7 0 1,0 11.4,0a5.7,5.7 0 1,0 -11.4,0M601.1,1082.3a5.7,5.7 0 1,0 11.4,0a5.7,5.7 0 1,0 -11.4,0M604.8,1082.4a5.7,5.7 0 1,0 11.4,0a5.7,5.7 0 1,0 -11.4,0M608.5,1082.7a5.7,5.7 0 1,0 11.4,0a5.7,5.7 0 1,0 -11.4,0M612.3,1083.3a5.7,5.7 0 1,0 11.4,0a5.7,5.7 0 1,0 -11.4,0M616.0,1084.1a5.7,5.7 0 1,0 11.4,0a5.7,5.7 0 1,0 -11.4,0M619.7,1084.9a5.7,5.7 0 1,0 11.4,0a5.7,5.7 0 1,0 -11.4,0M623.4,1085.8a5.7,5.7 0 1,0 11.4,0a5.7,5.7 0 1,0 -11.4,0M627.2,1086.8a5.7,5.7 0 1,0 11.4,0a5.7,5.7 0 1,0 -11.4,0M630.9,1088.2a5.7,5.7 0 1,0 11.4,0a5.7,5.7 0 1,0 -11.4,0M634.6,1089.7a5.7,5.7 0 1,0 11.4,0a5.7,5.7 0 1,0 -11.4,0M638.3,1091.4a5.7,5.7 0 1,0 11.4,0a5.7,5.7 0 1,0 -11.4,0M642.1,1093.1a5.7,5.7 0 1,0 11.4,0a5.7,5.7 0 1,0 -11.4,0M645.8,1094.7a5.7,5.7 0 1,0 11.4,0a5.7,5.7 0 1,0 -11.4,0M649.5,1096.0a5.7,5.7 0 1,0 11.4,0a5.7,5.7 0 1,0 -11.4,0M653.2,1097.2a5.7,5.7 0 1,0 11.4,0a5.7,5.7 0 1,0 -11.4,0M657.0,1098.5a5.7,5.7 0 1,0 11.4,0a5.7,5.7 0 1,0 -11.4,0M660.7,1099.7a5.7,5.7 0 1,0 11.4,0a5.7,5.7 0 1,0 -11.4,0M664.4,1101.0a5.7,5.7 0 1,0 11.4,0a5.7,5.7 0 1,0 -11.4,0M668.1,1102.2a5.7,5.7 0 1,0 11.4,0a5.7,5.7 0 1,0 -11.4,0M671.9,1103.3a5.7,5.7 0 1,0 11.4,0a5.7,5.7 0 1,0 -11.4,0M675.6,1104.2a5.7,5.7 0 1,0 11.4,0a5.7,5.7 0 1,0 -11.4,0M679.3,1105.0a5.7,5.7 0 1,0 11.4,0a5.7,5.7 0 1,0 -11.4,0M683.1,1105.6a5.7,5.7 0 1,0 11.4,0a5.7,5.7 0 1,0 -11.4,0M686.8,1106.0a5.7,5.7 0 1,0 11.4,0a5.7,5.7 0 1,0 -11.4,0M690.5,1106.1a5.7,5.7 0 1,0 11.4,0a5.7,5.7 0 1,0 -11.4,0M694.2,1105.9a5.7,5.7 0 1,0 11.4,0a5.7,5.7 0 1,0 -11.4,0M698.0,1105.4a5.7,5.7 0 1,0 11.4,0a5.7,5.7 0 1,0 -11.4,0M701.7,1104.6a5.7,5.7 0 1,0 11.4,0a5.7,5.7 0 1,0 -11.4,0M705.4,1103.6a5.7,5.7 0 1,0 11.4,0a5.7,5.7 0 1,0 -11.4,0M709.1,1102.5a5.7,5.7 0 1,0 11.4,0a5.7,5.7 0 1,0 -11.4,0M712.9,1101.3a5.7,5.7 0 1,0 11.4,0a5.7,5.7 0 1,0 -11.4,0M716.6,1100.0a5.7,5.7 0 1,0 11.4,0a5.7,5.7 0 1,0 -11.4,0M720.3,1098.8a5.7,5.7 0 1,0 11.4,0a5.7,5.7 0 1,0 -11.4,0M724.0,1097.6a5.7,5.7 0 1,0 11.4,0a5.7,5.7 0 1,0 -11.4,0M727.8,1096.6a5.7,5.7 0 1,0 11.4,0a5.7,5.7 0 1,0 -11.4,0M731.5,1095.7a5.7,5.7 0 1,0 11.4,0a5.7,5.7 0 1,0 -11.4,0M735.2,1095.1a5.7,5.7 0 1,0 11.4,0a5.7,5.7 0 1,0 -11.4,0M739.0,1094.8a5.7,5.7 0 1,0 11.4,0a5.7,5.7 0 1,0 -11.4,0M742.7,1094.8a5.7,5.7 0 1,0 11.4,0a5.7,5.7 0 1,0 -11.4,0M746.4,1095.0a5.7,5.7 0 1,0 11.4,0a5.7,5.7 0 1,0 -11.4,0M750.1,1095.2a5.7,5.7 0 1,0 11.4,0a5.7,5.7 0 1,0 -11.4,0M753.9,1095.6a5.7,5.7 0 1,0 11.4,0a5.7,5.7 0 1,0 -11.4,0M757.6,1096.0a5.7,5.7 0 1,0 11.4,0a5.7,5.7 0 1,0 -11.4,0M761.3,1096.4a5.7,5.7 0 1,0 11.4,0a5.7,5.7 0 1,0 -11.4,0M765.0,1096.9a5.7,5.7 0 1,0 11.4,0a5.7,5.7 0 1,0 -11.4,0M768.8,1097.3a5.7,5.7 0 1,0 11.4,0a5.7,5.7 0 1,0 -11.4,0M772.5,1097.8a5.7,5.7 0 1,0 11.4,0a5.7,5.7 0 1,0 -11.4,0M776.2,1098.1a5.7,5.7 0 1,0 11.4,0a5.7,5.7 0 1,0 -11.4,0M779.9,1098.4a5.7,5.7 0 1,0 11.4,0a5.7,5.7 0 1,0 -11.4,0M783.7,1098.5a5.7,5.7 0 1,0 11.4,0a5.7,5.7 0 1,0 -11.4,0M787.4,1098.6a5.7,5.7 0 1,0 11.4,0a5.7,5.7 0 1,0 -11.4,0M791.1,1098.6a5.7,5.7 0 1,0 11.4,0a5.7,5.7 0 1,0 -11.4,0M794.9,1098.6a5.7,5.7 0 1,0 11.4,0a5.7,5.7 0 1,0 -11.4,0M798.6,1098.6a5.7,5.7 0 1,0 11.4,0a5.7,5.7 0 1,0 -11.4,0M802.3,1098.6a5.7,5.7 0 1,0 11.4,0a5.7,5.7 0 1,0 -11.4,0M806.0,1098.6a5.7,5.7 0 1,0 11.4,0a5.7,5.7 0 1,0 -11.4,0M809.8,1098.6a5.7,5.7 0 1,0 11.4,0a5.7,5.7 0 1,0 -11.4,0M813.5,1098.6a5.7,5.7 0 1,0 11.4,0a5.7,5.7 0 1,0 -11.4,0" fill="none" stroke="#5c5c5c" stroke-width="1.7"/>
<polyline points="92.5,1084.4 93.7,1083.9 94.9,1083.4 96.1,1082.8 97.4,1082.3 98.6,1081.7 99.8,1081.0 101.0,1080.4 102.2,1079.7 103.4,1079.0 104.6,1078.3 105.9,1077.5 107.1,1076.8 108.3,1076.0 109.5,1075.2 110.7,1074.4 111.9,1073.5 113.1,1072.7 114.4,1071.8 115.6,1070.8 116.8,1069.7 118.0,1068.6 119.2,1067.4 120.4,1066.3 121.7,1065.1 122.9,1064.0 124.1,1062.9 125.3,1061.8 126.5,1060.8 127.7,1059.9 128.9,1059.1 130.2,1058.2 131.4,1057.3 132.6,1056.5 133.8,1055.6 135.0,1054.7 136.2,1053.9 137.4,1053.1 138.7,1052.3 139.9,1051.7 141.1,1051.1 142.3,1050.6 143.5,1050.2 144.7,1049.9 145.9,1049.8 147.2,1049.8 148.4,1050.0 149.6,1050.3 150.8,1050.6 152.0,1051.1 153.2,1051.6 154.4,1052.2 155.7,1052.8 156.9,1053.4 158.1,1054.1 159.3,1054.7 160.5,1055.3 161.7,1056.0 163.0,1056.9 164.2,1057.9 165.4,1059.0 166.6,1060.1 167.8,1061.2 169.0,1062.4 170.2,1063.5 171.5,1064.5 172.7,1065.4 173.9,1066.1 175.1,1066.8 176.3,1067.2 177.5,1067.4 178.7,1067.2 180.0,1066.6 181.2,1065.6 182.4,1064.5 183.6,1063.1 184.8,1061.1 186.0,1058.9 187.2,1056.5 188.5,1053.9 189.7,1051.0 190.9,1047.5 192.1,1043.1 193.3,1038.1 194.5,1032.9 195.7,1027.9 197.0,1023.1 198.2,1018.5 199.4,1013.9 200.6,1009.3 201.8,1004.6 203.0,999.9 204.2,995.1 205.5,990.1 206.7,985.2 207.9,980.3 209.1,975.3 210.3,970.2 211.5,965.1 212.8,959.8 214.0,954.5 215.2,949.0 216.4,943.4 217.6,937.7 218.8,931.5 220.0,925.0 221.3,918.3 222.5,911.6 223.7,905.0 224.9,898.8 226.1,893.0 227.3,887.5 228.5,882.0 229.8,876.8 231.0,871.6 232.2,866.6 233.4,861.8 234.6,857.0 235.8,852.4 237.0,847.8 238.3,843.3 239.5,838.9 240.7,834.6 241.9,830.4 243.1,826.5 244.3,822.8 245.5,819.5 246.8,816.3 248.0,813.2 249.2,810.2 250.4,807.4 251.6,804.8 252.8,802.7 254.1,800.9 255.3,799.7 256.5,798.5 257.7,797.5 258.9,796.5 260.1,795.6 261.3,794.8 262.6,794.3 263.8,793.9 265.0,793.7 266.2,793.8 267.4,794.3 268.6,795.1 269.8,796.2 271.1,797.6 272.3,799.1 273.5,800.8 274.7,802.5 275.9,804.2 277.1,806.2 278.3,808.6 279.6,811.3 280.8,814.3 282.0,817.3 283.2,820.4 284.4,823.6 285.6,826.9 286.8,830.3 288.1,833.9 289.3,837.7 290.5,841.8 291.7,846.0 292.9,850.5 294.1,855.5 295.3,861.1 296.6,867.0 297.8,873.3 299.0,879.7 300.2,886.1 301.4,892.4 302.6,898.5 303.9,904.5 305.1,910.5 306.3,916.5 307.5,922.5 308.7,928.4 309.9,934.2 311.1,939.9 312.4,945.5 313.6,950.9 314.8,956.2 316.0,961.5 317.2,966.8 318.4,972.3 319.6,977.9 320.9,983.7 322.1,989.7 323.3,995.8 324.5,1001.9 325.7,1008.1 326.9,1014.3 328.1,1020.4 329.4,1026.7 330.6,1033.1 331.8,1039.4 333.0,1045.6 334.2,1051.5 335.4,1056.9 336.6,1062.2 337.9,1067.3 339.1,1071.8 340.3,1075.3 341.5,1078.1 342.7,1080.7 343.9,1082.8 345.2,1084.0 346.4,1084.1 347.6,1083.7 348.8,1082.9 350.0,1081.8 351.2,1080.7 352.4,1079.0 353.7,1076.8 354.9,1074.3 356.1,1072.2 357.3,1069.9 358.5,1067.5 359.7,1065.0 360.9,1062.6 362.2,1060.2 363.4,1058.1 364.6,1056.2 365.8,1054.7 367.0,1053.7 368.2,1053.1 369.4,1052.8 370.7,1052.5 371.9,1052.2 373.1,1052.0 374.3,1051.8 375.5,1051.7 376.7,1051.6 377.9,1051.7 379.2,1052.0 380.4,1052.5 381.6,1053.2 382.8,1053.9 384.0,1054.9 385.2,1055.8 386.4,1056.9 387.7,1057.9 388.9,1059.0 390.1,1060.0 391.3,1061.2 392.5,1062.5 393.7,1063.9 395.0,1065.5 396.2,1067.1 397.4,1068.8 398.6,1070.5 399.8,1072.2 401.0,1074.0 402.2,1075.7 403.5,1077.5 404.7,1079.1 405.9,1080.8 407.1,1082.7 408.3,1084.7 409.5,1086.8 410.7,1089.0 412.0,1091.2 413.2,1093.4 414.4,1095.5 415.6,1097.5 416.8,1099.4 418.0,1101.0 419.2,1102.4 420.5,1103.5 421.7,1104.2 422.9,1104.6 424.1,1104.5 425.3,1103.9 426.5,1103.0 427.7,1101.8 429.0,1100.3 430.2,1098.7 431.4,1097.1 432.6,1095.4 433.8,1093.9 435.0,1092.5 436.3,1091.4 437.5,1090.5 438.7,1089.7 439.9,1088.8 441.1,1088.0 442.3,1087.2 443.5,1086.5 444.8,1085.8 446.0,1085.2 447.2,1084.7 448.4,1084.3 449.6,1084.0 450.8,1083.8 452.0,1083.7 453.3,1083.6 454.5,1083.5 455.7,1083.4 456.9,1083.4 458.1,1083.5 459.3,1083.8 460.5,1084.3 461.8,1084.9 463.0,1085.6 464.2,1086.4 465.4,1087.3 466.6,1088.3 467.8,1089.2 469.0,1090.1 470.3,1091.0 471.5,1091.8 472.7,1092.5 473.9,1093.3 475.1,1094.0 476.3,1094.8 477.5,1095.7 478.8,1096.5 480.0,1097.4 481.2,1098.3 482.4,1099.2 483.6,1100.0 484.8,1100.9 486.1,1101.7 487.3,1102.4 488.5,1103.1 489.7,1103.8 490.9,1104.4 492.1,1104.9 493.3,1105.3 494.6,1105.6 495.8,1105.8 497.0,1105.9 498.2,1105.9 499.4,1105.6 500.6,1105.1 501.8,1104.4 503.1,1103.7 504.3,1102.8 505.5,1101.9 506.7,1100.9 507.9,1100.0 509.1,1099.1 510.3,1098.3 511.6,1097.6 512.8,1097.0 514.0,1096.6 515.2,1096.2 516.4,1095.7 517.6,1095.3 518.8,1094.9 520.1,1094.5 521.3,1094.2 522.5,1093.8 523.7,1093.5 524.9,1093.2 526.1,1093.0 527.4,1092.8 528.6,1092.6 529.8,1092.5 531.0,1092.5 532.2,1092.5 533.4,1092.6 534.6,1092.8 535.9,1093.1 537.1,1093.4 538.3,1093.8 539.5,1094.3 540.7,1094.7 541.9,1095.2 543.1,1095.7 544.4,1096.3 545.6,1096.8 546.8,1097.3 548.0,1097.9 549.2,1098.4 550.4,1098.8 551.6,1099.3 552.9,1099.8 554.1,1100.3 555.3,1100.9 556.5,1101.4 557.7,1102.1 558.9,1102.7 560.1,1103.3 561.4,1103.9 562.6,1104.5 563.8,1105.0 565.0,1105.5 566.2,1106.0 567.4,1106.4 568.6,1106.7 569.9,1106.9 571.1,1107.0 572.3,1107.0 573.5,1106.8 574.7,1106.5 575.9,1106.1 577.2,1105.6 578.4,1105.1 579.6,1104.5 580.8,1104.0 582.0,1103.5 583.2,1103.1 584.4,1102.7 585.7,1102.5 586.9,1102.3 588.1,1102.1 589.3,1101.9 590.5,1101.8 591.7,1101.6 592.9,1101.4 594.2,1101.3 595.4,1101.1 596.6,1101.0 597.8,1100.9 599.0,1100.7 600.2,1100.6 601.4,1100.6 602.7,1100.5 603.9,1100.4 605.1,1100.4 606.3,1100.3 607.5,1100.3 608.7,1100.3 609.9,1100.4 611.2,1100.5 612.4,1100.6 613.6,1100.7 614.8,1100.8 616.0,1101.0 617.2,1101.2 618.5,1101.4 619.7,1101.6 620.9,1101.8 622.1,1102.1 623.3,1102.3 624.5,1102.6 625.7,1102.8 627.0,1103.0 628.2,1103.3 629.4,1103.5 630.6,1103.7 631.8,1104.0 633.0,1104.3 634.2,1104.6 635.5,1105.0 636.7,1105.3 637.9,1105.7 639.1,1106.0 640.3,1106.4 641.5,1106.7 642.7,1107.0 644.0,1107.2 645.2,1107.4 646.4,1107.5 647.6,1107.5 648.8,1107.5 650.0,1107.4 651.2,1107.3 652.5,1107.1 653.7,1106.9 654.9,1106.6 656.1,1106.3 657.3,1106.0 658.5,1105.7 659.7,1105.4 661.0,1105.0 662.2,1104.7 663.4,1104.3 664.6,1104.0 665.8,1103.7 667.0,1103.3 668.3,1103.1 669.5,1102.8 670.7,1102.6 671.9,1102.4 673.1,1102.3 674.3,1102.2 675.5,1102.2 676.8,1102.2 678.0,1102.2 679.2,1102.2 680.4,1102.3 681.6,1102.3 682.8,1102.4 684.0,1102.5 685.3,1102.6 686.5,1102.7 687.7,1102.8 688.9,1102.9 690.1,1103.1 691.3,1103.2 692.5,1103.3 693.8,1103.4 695.0,1103.5 696.2,1103.7 697.4,1103.8 698.6,1103.9 699.8,1104.1 701.0,1104.3 702.3,1104.5 703.5,1104.7 704.7,1105.0 705.9,1105.2 707.1,1105.4 708.3,1105.7 709.6,1105.9 710.8,1106.1 712.0,1106.3 713.2,1106.5 714.4,1106.7 715.6,1106.9 716.8,1107.1 718.1,1107.2 719.3,1107.3 720.5,1107.4 721.7,1107.5 722.9,1107.5 724.1,1107.5 725.3,1107.5 726.6,1107.5 727.8,1107.4 729.0,1107.4 730.2,1107.3 731.4,1107.2 732.6,1107.2 733.8,1107.1 735.1,1107.0 736.3,1106.9 737.5,1106.8 738.7,1106.7 739.9,1106.6 741.1,1106.5 742.3,1106.5 743.6,1106.4 744.8,1106.3 746.0,1106.2 747.2,1106.2 748.4,1106.2 749.6,1106.1 750.8,1106.1 752.1,1106.1 753.3,1106.2 754.5,1106.2 755.7,1106.2 756.9,1106.3 758.1,1106.3 759.4,1106.4 760.6,1106.4 761.8,1106.5 763.0,1106.6 764.2,1106.6 765.4,1106.7 766.6,1106.8 767.9,1106.9 769.1,1106.9 770.3,1107.0 771.5,1107.1 772.7,1107.2 773.9,1107.2 775.1,1107.3 776.4,1107.4 777.6,1107.4 778.8,1107.5 780.0,1107.5 781.2,1107.5 782.4,1107.6 783.6,1107.6 784.9,1107.6 786.1,1107.6 787.3,1107.7 788.5,1107.7 789.7,1107.7 790.9,1107.7 792.1,1107.7 793.4,1107.8 794.6,1107.8 795.8,1107.8 797.0,1107.8 798.2,1107.9 799.4,1107.9 800.7,1107.9 801.9,1107.9 803.1,1107.9 804.3,1107.9 805.5,1108.0 806.7,1108.0 807.9,1108.0 809.2,1108.0 810.4,1108.0 811.6,1108.0 812.8,1108.0 814.0,1108.0 815.2,1108.0 816.4,1108.1 817.7,1108.1 818.9,1108.1 820.1,1108.1 821.3,1108.1" fill="none" stroke="#a00000" stroke-width="4.8" stroke-linejoin="round"/>
</g>
<g font-family="'Liberation Sans', Arial, sans-serif" font-size="27" fill="#0a0a0a" stroke="#0a0a0a" stroke-width="0.5" text-anchor="end">
<text x="78" y="361.4">0</text>
<text x="78" y="307.7">1</text>
<text x="78" y="253.9">2</text>
<text x="78" y="200.2">3</text>
<text x="78" y="146.5">4</text>
<text x="78" y="92.7">5</text>
<text x="78" y="39.0">6</text>
<text x="78" y="764.5">-1</text>
<text x="78" y="720.2">0</text>
<text x="78" y="676.0">1</text>
<text x="78" y="631.7">2</text>
<text x="78" y="587.5">3</text>
<text x="78" y="543.2">4</text>
<text x="78" y="498.9">5</text>
<text x="78" y="454.7">6</text>
<text x="78" y="410.4">7</text>
<text x="78" y="1113.8">0</text>
<text x="78" y="1060.1">1</text>
<text x="78" y="1006.3">2</text>
<text x="78" y="952.6">3</text>
<text x="78" y="898.9">4</text>
<text x="78" y="845.1">5</text>
<text x="78" y="791.4">6</text>
</g>
<g font-family="'Liberation Sans', Arial, sans-serif" font-size="27" fill="#0a0a0a" stroke="#0a0a0a" stroke-width="0.5" text-anchor="middle">
<text x="92.5" y="1169.5">0.0</text>
<text x="153.2" y="1169.5">0.5</text>
<text x="214.0" y="1169.5">1.0</text>
<text x="274.7" y="1169.5">1.5</text>
<text x="335.4" y="1169.5">2.0</text>
<text x="396.2" y="1169.5">2.5</text>
<text x="456.9" y="1169.5">3.0</text>
<text x="517.6" y="1169.5">3.5</text>
<text x="578.4" y="1169.5">4.0</text>
<text x="639.1" y="1169.5">4.5</text>
<text x="699.8" y="1169.5">5.0</text>
<text x="760.6" y="1169.5">5.5</text>
<text x="821.3" y="1169.5">6.0</text>
</g>
<text font-family="'Liberation Sans', Arial, sans-serif" font-size="33" fill="#0a0a0a" stroke="#0a0a0a" stroke-width="0.5" x="421.5" y="1222" textLength="72.5" lengthAdjust="spacingAndGlyphs">R (Å)</text>
<text font-family="'Liberation Sans', Arial, sans-serif" font-size="30.5" fill="#0a0a0a" stroke="#0a0a0a" stroke-width="0.5" transform="translate(31.5,592) rotate(-90)">I<tspan font-style="italic" font-size="27">χ</tspan> (R)I Å<tspan font-size="15" dy="-17">-4</tspan></text>
<text font-family="'Liberation Sans', Arial, sans-serif" font-size="34" fill="#0a0a0a" stroke="#0a0a0a" stroke-width="0.5" x="526.5" y="78" textLength="199" lengthAdjust="spacingAndGlyphs">(a) Fe <tspan font-style="italic">K</tspan>-edge</text>
<text font-family="'Liberation Sans', Arial, sans-serif" font-size="34" fill="#0a0a0a" stroke="#0a0a0a" stroke-width="0.5" x="526.5" y="452.3" textLength="191" lengthAdjust="spacingAndGlyphs">(b) Ni <tspan font-style="italic">K</tspan>-edge</text>
<text font-family="'Liberation Sans', Arial, sans-serif" font-size="34" fill="#0a0a0a" stroke="#0a0a0a" stroke-width="0.5" x="544.7" y="877.3" textLength="198.5" lengthAdjust="spacingAndGlyphs">(c) Zn K-edge</text>
<circle cx="551.6" cy="128.3" r="6.8" fill="none" stroke="#8a8a8a" stroke-width="1.8"/>
<text font-family="'Liberation Sans', Arial, sans-serif" font-size="34" fill="#0a0a0a" stroke="#0a0a0a" stroke-width="0.5" x="597" y="140" textLength="186" lengthAdjust="spacingAndGlyphs">Experimental</text>
<path d="M513.5,166.3H540M561.7,166.3H587.2" stroke="#a80000" stroke-width="4.2" fill="none"/>
<circle cx="551" cy="166.3" r="2.7" fill="#a80000"/>
<text font-family="'Liberation Sans', Arial, sans-serif" font-size="34" fill="#0a0a0a" stroke="#0a0a0a" stroke-width="0.5" x="597" y="178.6" textLength="78" lengthAdjust="spacingAndGlyphs">Fitted</text>
</svg></div>
</body></html>
